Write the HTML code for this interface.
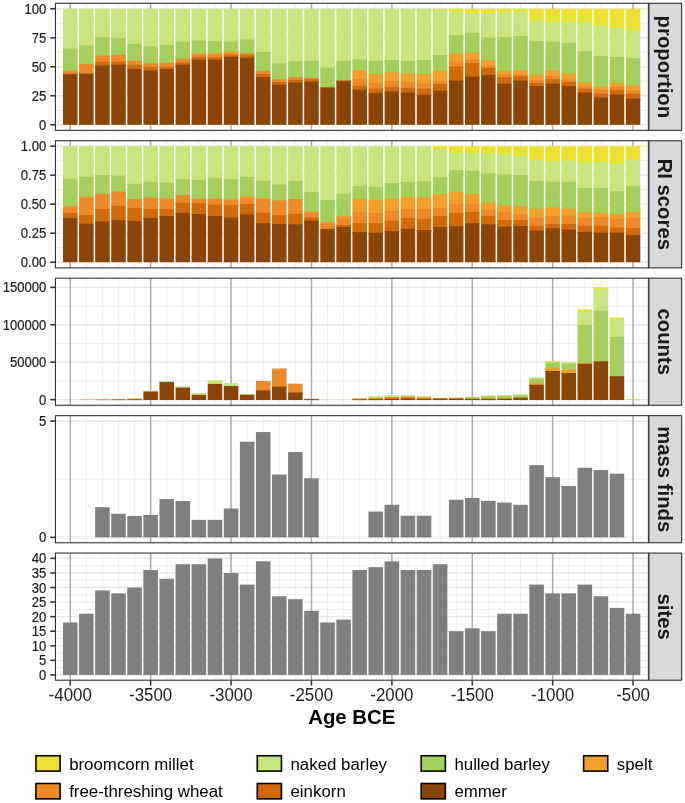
<!DOCTYPE html>
<html><head><meta charset="utf-8"><title>Age BCE crops</title>
<style>html,body{margin:0;padding:0;background:#fff}svg{display:block;font-family:"Liberation Sans",sans-serif}</style></head>
<body>
<svg width="685" height="803" viewBox="0 0 685 803">
<rect width="685" height="803" fill="#fff"/>
<line x1="55.45" x2="648.4" y1="110.29" y2="110.29" stroke="#e8e8e8" stroke-width="0.75"/>
<line x1="55.45" x2="648.4" y1="81.28" y2="81.28" stroke="#e8e8e8" stroke-width="0.75"/>
<line x1="55.45" x2="648.4" y1="52.27" y2="52.27" stroke="#e8e8e8" stroke-width="0.75"/>
<line x1="55.45" x2="648.4" y1="23.26" y2="23.26" stroke="#e8e8e8" stroke-width="0.75"/>
<line x1="86.34" x2="86.34" y1="3.3" y2="130.4" stroke="#e8e8e8" stroke-width="0.75"/>
<line x1="102.42" x2="102.42" y1="3.3" y2="130.4" stroke="#e8e8e8" stroke-width="0.75"/>
<line x1="118.50" x2="118.50" y1="3.3" y2="130.4" stroke="#e8e8e8" stroke-width="0.75"/>
<line x1="134.58" x2="134.58" y1="3.3" y2="130.4" stroke="#e8e8e8" stroke-width="0.75"/>
<line x1="166.74" x2="166.74" y1="3.3" y2="130.4" stroke="#e8e8e8" stroke-width="0.75"/>
<line x1="182.82" x2="182.82" y1="3.3" y2="130.4" stroke="#e8e8e8" stroke-width="0.75"/>
<line x1="198.90" x2="198.90" y1="3.3" y2="130.4" stroke="#e8e8e8" stroke-width="0.75"/>
<line x1="214.98" x2="214.98" y1="3.3" y2="130.4" stroke="#e8e8e8" stroke-width="0.75"/>
<line x1="247.14" x2="247.14" y1="3.3" y2="130.4" stroke="#e8e8e8" stroke-width="0.75"/>
<line x1="263.22" x2="263.22" y1="3.3" y2="130.4" stroke="#e8e8e8" stroke-width="0.75"/>
<line x1="279.30" x2="279.30" y1="3.3" y2="130.4" stroke="#e8e8e8" stroke-width="0.75"/>
<line x1="295.38" x2="295.38" y1="3.3" y2="130.4" stroke="#e8e8e8" stroke-width="0.75"/>
<line x1="327.54" x2="327.54" y1="3.3" y2="130.4" stroke="#e8e8e8" stroke-width="0.75"/>
<line x1="343.62" x2="343.62" y1="3.3" y2="130.4" stroke="#e8e8e8" stroke-width="0.75"/>
<line x1="359.70" x2="359.70" y1="3.3" y2="130.4" stroke="#e8e8e8" stroke-width="0.75"/>
<line x1="375.78" x2="375.78" y1="3.3" y2="130.4" stroke="#e8e8e8" stroke-width="0.75"/>
<line x1="407.94" x2="407.94" y1="3.3" y2="130.4" stroke="#e8e8e8" stroke-width="0.75"/>
<line x1="424.02" x2="424.02" y1="3.3" y2="130.4" stroke="#e8e8e8" stroke-width="0.75"/>
<line x1="440.10" x2="440.10" y1="3.3" y2="130.4" stroke="#e8e8e8" stroke-width="0.75"/>
<line x1="456.18" x2="456.18" y1="3.3" y2="130.4" stroke="#e8e8e8" stroke-width="0.75"/>
<line x1="488.34" x2="488.34" y1="3.3" y2="130.4" stroke="#e8e8e8" stroke-width="0.75"/>
<line x1="504.42" x2="504.42" y1="3.3" y2="130.4" stroke="#e8e8e8" stroke-width="0.75"/>
<line x1="520.50" x2="520.50" y1="3.3" y2="130.4" stroke="#e8e8e8" stroke-width="0.75"/>
<line x1="536.58" x2="536.58" y1="3.3" y2="130.4" stroke="#e8e8e8" stroke-width="0.75"/>
<line x1="568.74" x2="568.74" y1="3.3" y2="130.4" stroke="#e8e8e8" stroke-width="0.75"/>
<line x1="584.82" x2="584.82" y1="3.3" y2="130.4" stroke="#e8e8e8" stroke-width="0.75"/>
<line x1="600.90" x2="600.90" y1="3.3" y2="130.4" stroke="#e8e8e8" stroke-width="0.75"/>
<line x1="616.98" x2="616.98" y1="3.3" y2="130.4" stroke="#e8e8e8" stroke-width="0.75"/>
<line x1="55.45" x2="648.4" y1="124.80" y2="124.80" stroke="#e8e8e8" stroke-width="1.4"/>
<line x1="55.45" x2="648.4" y1="95.79" y2="95.79" stroke="#e8e8e8" stroke-width="1.4"/>
<line x1="55.45" x2="648.4" y1="66.78" y2="66.78" stroke="#e8e8e8" stroke-width="1.4"/>
<line x1="55.45" x2="648.4" y1="37.76" y2="37.76" stroke="#e8e8e8" stroke-width="1.4"/>
<line x1="55.45" x2="648.4" y1="8.75" y2="8.75" stroke="#e8e8e8" stroke-width="1.4"/>
<line x1="70.26" x2="70.26" y1="3.3" y2="130.4" stroke="#ababab" stroke-width="1.5"/>
<line x1="150.66" x2="150.66" y1="3.3" y2="130.4" stroke="#ababab" stroke-width="1.5"/>
<line x1="231.06" x2="231.06" y1="3.3" y2="130.4" stroke="#ababab" stroke-width="1.5"/>
<line x1="311.46" x2="311.46" y1="3.3" y2="130.4" stroke="#ababab" stroke-width="1.5"/>
<line x1="391.86" x2="391.86" y1="3.3" y2="130.4" stroke="#ababab" stroke-width="1.5"/>
<line x1="472.26" x2="472.26" y1="3.3" y2="130.4" stroke="#ababab" stroke-width="1.5"/>
<line x1="552.66" x2="552.66" y1="3.3" y2="130.4" stroke="#ababab" stroke-width="1.5"/>
<line x1="633.06" x2="633.06" y1="3.3" y2="130.4" stroke="#ababab" stroke-width="1.5"/>
<rect x="62.99" y="8.76" width="14.55" height="41.05" fill="#c5e67d"/>
<rect x="62.99" y="48.61" width="14.55" height="23.10" fill="#a3cf5d"/>
<rect x="62.99" y="70.51" width="14.55" height="4.27" fill="#ee8828"/>
<rect x="62.99" y="73.58" width="14.55" height="1.86" fill="#d2690a"/>
<rect x="62.99" y="74.23" width="14.55" height="50.58" fill="#8b4507"/>
<rect x="79.06" y="8.76" width="14.55" height="37.99" fill="#c5e67d"/>
<rect x="79.06" y="45.55" width="14.55" height="19.59" fill="#a3cf5d"/>
<rect x="79.06" y="63.94" width="14.55" height="10.84" fill="#ee8828"/>
<rect x="79.06" y="73.58" width="14.55" height="51.24" fill="#8b4507"/>
<rect x="95.14" y="8.76" width="14.55" height="29.67" fill="#c5e67d"/>
<rect x="95.14" y="37.23" width="14.55" height="19.59" fill="#a3cf5d"/>
<rect x="95.14" y="55.62" width="14.55" height="7.33" fill="#ee8828"/>
<rect x="95.14" y="61.75" width="14.55" height="5.14" fill="#d2690a"/>
<rect x="95.14" y="65.69" width="14.55" height="59.12" fill="#8b4507"/>
<rect x="111.22" y="8.76" width="14.55" height="30.54" fill="#c5e67d"/>
<rect x="111.22" y="38.10" width="14.55" height="17.84" fill="#a3cf5d"/>
<rect x="111.22" y="54.74" width="14.55" height="8.21" fill="#ee8828"/>
<rect x="111.22" y="61.75" width="14.55" height="4.27" fill="#d2690a"/>
<rect x="111.22" y="64.82" width="14.55" height="60.00" fill="#8b4507"/>
<rect x="127.30" y="8.76" width="14.55" height="36.24" fill="#c5e67d"/>
<rect x="127.30" y="43.80" width="14.55" height="18.28" fill="#a3cf5d"/>
<rect x="127.30" y="60.88" width="14.55" height="5.14" fill="#ee8828"/>
<rect x="127.30" y="64.82" width="14.55" height="5.36" fill="#d2690a"/>
<rect x="127.30" y="68.98" width="14.55" height="55.84" fill="#8b4507"/>
<rect x="143.38" y="8.76" width="14.55" height="38.86" fill="#c5e67d"/>
<rect x="143.38" y="46.42" width="14.55" height="18.06" fill="#a3cf5d"/>
<rect x="143.38" y="63.28" width="14.55" height="4.92" fill="#ee8828"/>
<rect x="143.38" y="67.01" width="14.55" height="4.70" fill="#d2690a"/>
<rect x="143.38" y="70.51" width="14.55" height="54.31" fill="#8b4507"/>
<rect x="159.47" y="8.76" width="14.55" height="37.33" fill="#c5e67d"/>
<rect x="159.47" y="44.89" width="14.55" height="19.16" fill="#a3cf5d"/>
<rect x="159.47" y="62.85" width="14.55" height="5.14" fill="#ee8828"/>
<rect x="159.47" y="66.79" width="14.55" height="3.39" fill="#d2690a"/>
<rect x="159.47" y="68.98" width="14.55" height="55.84" fill="#8b4507"/>
<rect x="175.54" y="8.76" width="14.55" height="34.05" fill="#c5e67d"/>
<rect x="175.54" y="41.61" width="14.55" height="18.28" fill="#a3cf5d"/>
<rect x="175.54" y="58.69" width="14.55" height="4.92" fill="#ee8828"/>
<rect x="175.54" y="62.41" width="14.55" height="3.61" fill="#d2690a"/>
<rect x="175.54" y="64.82" width="14.55" height="60.00" fill="#8b4507"/>
<rect x="191.62" y="8.76" width="14.55" height="32.95" fill="#c5e67d"/>
<rect x="191.62" y="40.51" width="14.55" height="13.90" fill="#a3cf5d"/>
<rect x="191.62" y="53.21" width="14.55" height="2.73" fill="#f2a028"/>
<rect x="191.62" y="54.74" width="14.55" height="3.39" fill="#ee8828"/>
<rect x="191.62" y="56.93" width="14.55" height="3.83" fill="#d2690a"/>
<rect x="191.62" y="59.56" width="14.55" height="65.26" fill="#8b4507"/>
<rect x="207.70" y="8.76" width="14.55" height="33.61" fill="#c5e67d"/>
<rect x="207.70" y="41.17" width="14.55" height="13.24" fill="#a3cf5d"/>
<rect x="207.70" y="53.21" width="14.55" height="2.73" fill="#f2a028"/>
<rect x="207.70" y="54.74" width="14.55" height="3.83" fill="#ee8828"/>
<rect x="207.70" y="57.37" width="14.55" height="3.39" fill="#d2690a"/>
<rect x="207.70" y="59.56" width="14.55" height="65.26" fill="#8b4507"/>
<rect x="223.78" y="8.76" width="14.55" height="34.05" fill="#c5e67d"/>
<rect x="223.78" y="41.61" width="14.55" height="11.27" fill="#a3cf5d"/>
<rect x="223.78" y="51.68" width="14.55" height="2.51" fill="#f2a028"/>
<rect x="223.78" y="52.99" width="14.55" height="2.95" fill="#ee8828"/>
<rect x="223.78" y="54.74" width="14.55" height="3.39" fill="#d2690a"/>
<rect x="223.78" y="56.93" width="14.55" height="67.88" fill="#8b4507"/>
<rect x="239.86" y="8.76" width="14.55" height="31.86" fill="#c5e67d"/>
<rect x="239.86" y="39.42" width="14.55" height="15.00" fill="#a3cf5d"/>
<rect x="239.86" y="53.21" width="14.55" height="3.17" fill="#ee8828"/>
<rect x="239.86" y="55.18" width="14.55" height="3.83" fill="#d2690a"/>
<rect x="239.86" y="57.81" width="14.55" height="67.01" fill="#8b4507"/>
<rect x="255.94" y="8.76" width="14.55" height="44.34" fill="#c5e67d"/>
<rect x="255.94" y="51.90" width="14.55" height="20.03" fill="#a3cf5d"/>
<rect x="255.94" y="70.73" width="14.55" height="4.48" fill="#ee8828"/>
<rect x="255.94" y="74.01" width="14.55" height="4.27" fill="#d2690a"/>
<rect x="255.94" y="77.08" width="14.55" height="47.74" fill="#8b4507"/>
<rect x="272.02" y="8.76" width="14.55" height="55.94" fill="#c5e67d"/>
<rect x="272.02" y="63.50" width="14.55" height="16.97" fill="#a3cf5d"/>
<rect x="272.02" y="79.27" width="14.55" height="4.05" fill="#ee8828"/>
<rect x="272.02" y="82.12" width="14.55" height="3.83" fill="#d2690a"/>
<rect x="272.02" y="84.74" width="14.55" height="40.07" fill="#8b4507"/>
<rect x="288.11" y="8.76" width="14.55" height="53.97" fill="#c5e67d"/>
<rect x="288.11" y="61.53" width="14.55" height="16.75" fill="#a3cf5d"/>
<rect x="288.11" y="77.08" width="14.55" height="4.05" fill="#ee8828"/>
<rect x="288.11" y="79.93" width="14.55" height="3.83" fill="#d2690a"/>
<rect x="288.11" y="82.55" width="14.55" height="42.26" fill="#8b4507"/>
<rect x="304.19" y="8.76" width="14.55" height="53.32" fill="#c5e67d"/>
<rect x="304.19" y="60.88" width="14.55" height="18.28" fill="#a3cf5d"/>
<rect x="304.19" y="77.96" width="14.55" height="2.51" fill="#ee8828"/>
<rect x="304.19" y="79.27" width="14.55" height="3.61" fill="#d2690a"/>
<rect x="304.19" y="81.68" width="14.55" height="43.14" fill="#8b4507"/>
<rect x="320.26" y="8.76" width="14.55" height="60.11" fill="#c5e67d"/>
<rect x="320.26" y="67.66" width="14.55" height="20.69" fill="#a3cf5d"/>
<rect x="320.26" y="87.15" width="14.55" height="1.86" fill="#d2690a"/>
<rect x="320.26" y="87.81" width="14.55" height="37.01" fill="#8b4507"/>
<rect x="336.34" y="8.76" width="14.55" height="53.32" fill="#c5e67d"/>
<rect x="336.34" y="60.88" width="14.55" height="20.69" fill="#a3cf5d"/>
<rect x="336.34" y="80.36" width="14.55" height="2.08" fill="#d2690a"/>
<rect x="336.34" y="81.24" width="14.55" height="43.58" fill="#8b4507"/>
<rect x="352.42" y="8.76" width="14.55" height="52.00" fill="#c5e67d"/>
<rect x="352.42" y="59.56" width="14.55" height="11.71" fill="#a3cf5d"/>
<rect x="352.42" y="70.07" width="14.55" height="10.40" fill="#f2a028"/>
<rect x="352.42" y="79.27" width="14.55" height="7.77" fill="#ee8828"/>
<rect x="352.42" y="85.84" width="14.55" height="5.14" fill="#d2690a"/>
<rect x="352.42" y="89.78" width="14.55" height="35.04" fill="#8b4507"/>
<rect x="368.50" y="8.76" width="14.55" height="53.32" fill="#c5e67d"/>
<rect x="368.50" y="60.88" width="14.55" height="14.34" fill="#a3cf5d"/>
<rect x="368.50" y="74.01" width="14.55" height="9.96" fill="#f2a028"/>
<rect x="368.50" y="82.77" width="14.55" height="7.11" fill="#ee8828"/>
<rect x="368.50" y="88.69" width="14.55" height="5.58" fill="#d2690a"/>
<rect x="368.50" y="93.07" width="14.55" height="31.75" fill="#8b4507"/>
<rect x="384.58" y="8.76" width="14.55" height="52.44" fill="#c5e67d"/>
<rect x="384.58" y="60.00" width="14.55" height="13.46" fill="#a3cf5d"/>
<rect x="384.58" y="72.26" width="14.55" height="9.96" fill="#f2a028"/>
<rect x="384.58" y="81.02" width="14.55" height="7.11" fill="#ee8828"/>
<rect x="384.58" y="86.93" width="14.55" height="5.80" fill="#d2690a"/>
<rect x="384.58" y="91.53" width="14.55" height="33.28" fill="#8b4507"/>
<rect x="400.66" y="8.76" width="14.55" height="53.32" fill="#c5e67d"/>
<rect x="400.66" y="60.88" width="14.55" height="13.90" fill="#a3cf5d"/>
<rect x="400.66" y="73.58" width="14.55" height="9.96" fill="#f2a028"/>
<rect x="400.66" y="82.34" width="14.55" height="6.67" fill="#ee8828"/>
<rect x="400.66" y="87.81" width="14.55" height="6.02" fill="#d2690a"/>
<rect x="400.66" y="92.63" width="14.55" height="32.19" fill="#8b4507"/>
<rect x="416.75" y="8.76" width="14.55" height="52.44" fill="#c5e67d"/>
<rect x="416.75" y="60.00" width="14.55" height="15.21" fill="#a3cf5d"/>
<rect x="416.75" y="74.01" width="14.55" height="10.84" fill="#f2a028"/>
<rect x="416.75" y="83.65" width="14.55" height="6.24" fill="#ee8828"/>
<rect x="416.75" y="88.69" width="14.55" height="7.11" fill="#d2690a"/>
<rect x="416.75" y="94.60" width="14.55" height="30.22" fill="#8b4507"/>
<rect x="432.82" y="8.76" width="14.55" height="2.51" fill="#ebe032"/>
<rect x="432.82" y="10.07" width="14.55" height="46.09" fill="#c5e67d"/>
<rect x="432.82" y="54.96" width="14.55" height="16.75" fill="#a3cf5d"/>
<rect x="432.82" y="70.51" width="14.55" height="12.15" fill="#f2a028"/>
<rect x="432.82" y="81.46" width="14.55" height="3.61" fill="#ee8828"/>
<rect x="432.82" y="83.87" width="14.55" height="7.99" fill="#d2690a"/>
<rect x="432.82" y="90.66" width="14.55" height="34.16" fill="#8b4507"/>
<rect x="448.90" y="8.76" width="14.55" height="4.48" fill="#ebe032"/>
<rect x="448.90" y="12.04" width="14.55" height="24.19" fill="#c5e67d"/>
<rect x="448.90" y="35.04" width="14.55" height="19.81" fill="#a3cf5d"/>
<rect x="448.90" y="53.65" width="14.55" height="9.30" fill="#f2a028"/>
<rect x="448.90" y="61.75" width="14.55" height="6.02" fill="#ee8828"/>
<rect x="448.90" y="66.57" width="14.55" height="15.21" fill="#d2690a"/>
<rect x="448.90" y="80.58" width="14.55" height="44.23" fill="#8b4507"/>
<rect x="464.98" y="8.76" width="14.55" height="6.24" fill="#ebe032"/>
<rect x="464.98" y="13.80" width="14.55" height="20.25" fill="#c5e67d"/>
<rect x="464.98" y="32.85" width="14.55" height="20.91" fill="#a3cf5d"/>
<rect x="464.98" y="52.55" width="14.55" height="8.21" fill="#f2a028"/>
<rect x="464.98" y="59.56" width="14.55" height="4.70" fill="#ee8828"/>
<rect x="464.98" y="63.07" width="14.55" height="14.78" fill="#d2690a"/>
<rect x="464.98" y="76.64" width="14.55" height="48.18" fill="#8b4507"/>
<rect x="481.06" y="8.76" width="14.55" height="6.24" fill="#ebe032"/>
<rect x="481.06" y="13.80" width="14.55" height="25.07" fill="#c5e67d"/>
<rect x="481.06" y="37.66" width="14.55" height="23.75" fill="#a3cf5d"/>
<rect x="481.06" y="60.22" width="14.55" height="6.67" fill="#f2a028"/>
<rect x="481.06" y="65.69" width="14.55" height="3.39" fill="#ee8828"/>
<rect x="481.06" y="67.88" width="14.55" height="8.21" fill="#d2690a"/>
<rect x="481.06" y="74.89" width="14.55" height="49.93" fill="#8b4507"/>
<rect x="497.14" y="8.76" width="14.55" height="4.70" fill="#ebe032"/>
<rect x="497.14" y="12.26" width="14.55" height="26.16" fill="#c5e67d"/>
<rect x="497.14" y="37.23" width="14.55" height="34.70" fill="#a3cf5d"/>
<rect x="497.14" y="70.73" width="14.55" height="4.92" fill="#f2a028"/>
<rect x="497.14" y="74.45" width="14.55" height="3.83" fill="#ee8828"/>
<rect x="497.14" y="77.08" width="14.55" height="7.77" fill="#d2690a"/>
<rect x="497.14" y="83.65" width="14.55" height="41.17" fill="#8b4507"/>
<rect x="513.23" y="8.76" width="14.55" height="4.48" fill="#ebe032"/>
<rect x="513.23" y="12.04" width="14.55" height="25.29" fill="#c5e67d"/>
<rect x="513.23" y="36.13" width="14.55" height="35.14" fill="#a3cf5d"/>
<rect x="513.23" y="70.07" width="14.55" height="5.58" fill="#f2a028"/>
<rect x="513.23" y="74.45" width="14.55" height="2.95" fill="#ee8828"/>
<rect x="513.23" y="76.20" width="14.55" height="5.58" fill="#d2690a"/>
<rect x="513.23" y="80.58" width="14.55" height="44.23" fill="#8b4507"/>
<rect x="529.30" y="8.76" width="14.55" height="13.02" fill="#ebe032"/>
<rect x="529.30" y="20.58" width="14.55" height="21.78" fill="#c5e67d"/>
<rect x="529.30" y="41.17" width="14.55" height="34.48" fill="#a3cf5d"/>
<rect x="529.30" y="74.45" width="14.55" height="6.67" fill="#f2a028"/>
<rect x="529.30" y="79.93" width="14.55" height="4.05" fill="#ee8828"/>
<rect x="529.30" y="82.77" width="14.55" height="4.48" fill="#d2690a"/>
<rect x="529.30" y="86.06" width="14.55" height="38.76" fill="#8b4507"/>
<rect x="545.38" y="8.76" width="14.55" height="14.34" fill="#ebe032"/>
<rect x="545.38" y="21.90" width="14.55" height="20.91" fill="#c5e67d"/>
<rect x="545.38" y="41.61" width="14.55" height="30.11" fill="#a3cf5d"/>
<rect x="545.38" y="70.51" width="14.55" height="6.89" fill="#f2a028"/>
<rect x="545.38" y="76.20" width="14.55" height="4.27" fill="#ee8828"/>
<rect x="545.38" y="79.27" width="14.55" height="5.58" fill="#d2690a"/>
<rect x="545.38" y="83.65" width="14.55" height="41.17" fill="#8b4507"/>
<rect x="561.47" y="8.76" width="14.55" height="14.34" fill="#ebe032"/>
<rect x="561.47" y="21.90" width="14.55" height="22.00" fill="#c5e67d"/>
<rect x="561.47" y="42.70" width="14.55" height="32.29" fill="#a3cf5d"/>
<rect x="561.47" y="73.80" width="14.55" height="6.67" fill="#f2a028"/>
<rect x="561.47" y="79.27" width="14.55" height="4.05" fill="#ee8828"/>
<rect x="561.47" y="82.12" width="14.55" height="5.14" fill="#d2690a"/>
<rect x="561.47" y="86.06" width="14.55" height="38.76" fill="#8b4507"/>
<rect x="577.54" y="8.76" width="14.55" height="14.34" fill="#ebe032"/>
<rect x="577.54" y="21.90" width="14.55" height="30.32" fill="#c5e67d"/>
<rect x="577.54" y="51.02" width="14.55" height="32.29" fill="#a3cf5d"/>
<rect x="577.54" y="82.12" width="14.55" height="5.58" fill="#f2a028"/>
<rect x="577.54" y="86.50" width="14.55" height="3.39" fill="#ee8828"/>
<rect x="577.54" y="88.69" width="14.55" height="5.14" fill="#d2690a"/>
<rect x="577.54" y="92.63" width="14.55" height="32.19" fill="#8b4507"/>
<rect x="593.62" y="8.76" width="14.55" height="18.06" fill="#ebe032"/>
<rect x="593.62" y="25.62" width="14.55" height="31.42" fill="#c5e67d"/>
<rect x="593.62" y="55.84" width="14.55" height="32.08" fill="#a3cf5d"/>
<rect x="593.62" y="86.72" width="14.55" height="4.27" fill="#f2a028"/>
<rect x="593.62" y="89.78" width="14.55" height="5.14" fill="#ee8828"/>
<rect x="593.62" y="93.72" width="14.55" height="5.14" fill="#d2690a"/>
<rect x="593.62" y="97.66" width="14.55" height="27.15" fill="#8b4507"/>
<rect x="609.70" y="8.76" width="14.55" height="20.47" fill="#ebe032"/>
<rect x="609.70" y="28.03" width="14.55" height="30.11" fill="#c5e67d"/>
<rect x="609.70" y="56.93" width="14.55" height="27.04" fill="#a3cf5d"/>
<rect x="609.70" y="82.77" width="14.55" height="4.92" fill="#f2a028"/>
<rect x="609.70" y="86.50" width="14.55" height="4.48" fill="#ee8828"/>
<rect x="609.70" y="89.78" width="14.55" height="6.02" fill="#d2690a"/>
<rect x="609.70" y="94.60" width="14.55" height="30.22" fill="#8b4507"/>
<rect x="625.78" y="8.76" width="14.55" height="22.66" fill="#ebe032"/>
<rect x="625.78" y="30.22" width="14.55" height="29.01" fill="#c5e67d"/>
<rect x="625.78" y="58.03" width="14.55" height="28.57" fill="#a3cf5d"/>
<rect x="625.78" y="85.40" width="14.55" height="6.24" fill="#f2a028"/>
<rect x="625.78" y="90.44" width="14.55" height="4.48" fill="#ee8828"/>
<rect x="625.78" y="93.72" width="14.55" height="6.02" fill="#d2690a"/>
<rect x="625.78" y="98.54" width="14.55" height="26.28" fill="#8b4507"/>
<rect x="55.45" y="3.3" width="592.9499999999999" height="127.1" fill="none" stroke="#333" stroke-width="1.1"/>
<rect x="648.9" y="3.3" width="32.700000000000045" height="127.1" fill="#d9d9d9" stroke="#333" stroke-width="1.1"/>
<text transform="translate(658.4,66.85) rotate(90)" text-anchor="middle" font-size="20.3" font-weight="bold" fill="#1a1a1a">proportion</text>
<line x1="50.2" x2="55.45" y1="124.80" y2="124.80" stroke="#333" stroke-width="1.55"/>
<text transform="translate(46.3,129.82) scale(1,1.07)" text-anchor="end" font-size="13.1" fill="#1c1c1c" stroke="#1c1c1c" stroke-width="0.2">0</text>
<line x1="50.2" x2="55.45" y1="95.79" y2="95.79" stroke="#333" stroke-width="1.55"/>
<text transform="translate(46.3,100.81) scale(1,1.07)" text-anchor="end" font-size="13.1" fill="#1c1c1c" stroke="#1c1c1c" stroke-width="0.2">25</text>
<line x1="50.2" x2="55.45" y1="66.78" y2="66.78" stroke="#333" stroke-width="1.55"/>
<text transform="translate(46.3,71.79) scale(1,1.07)" text-anchor="end" font-size="13.1" fill="#1c1c1c" stroke="#1c1c1c" stroke-width="0.2">50</text>
<line x1="50.2" x2="55.45" y1="37.76" y2="37.76" stroke="#333" stroke-width="1.55"/>
<text transform="translate(46.3,42.78) scale(1,1.07)" text-anchor="end" font-size="13.1" fill="#1c1c1c" stroke="#1c1c1c" stroke-width="0.2">75</text>
<line x1="50.2" x2="55.45" y1="8.75" y2="8.75" stroke="#333" stroke-width="1.55"/>
<text transform="translate(46.3,13.77) scale(1,1.07)" text-anchor="end" font-size="13.1" fill="#1c1c1c" stroke="#1c1c1c" stroke-width="0.2">100</text>
<line x1="55.45" x2="648.4" y1="247.69" y2="247.69" stroke="#e8e8e8" stroke-width="0.75"/>
<line x1="55.45" x2="648.4" y1="218.68" y2="218.68" stroke="#e8e8e8" stroke-width="0.75"/>
<line x1="55.45" x2="648.4" y1="189.67" y2="189.67" stroke="#e8e8e8" stroke-width="0.75"/>
<line x1="55.45" x2="648.4" y1="160.66" y2="160.66" stroke="#e8e8e8" stroke-width="0.75"/>
<line x1="86.34" x2="86.34" y1="140.75" y2="267.85" stroke="#e8e8e8" stroke-width="0.75"/>
<line x1="102.42" x2="102.42" y1="140.75" y2="267.85" stroke="#e8e8e8" stroke-width="0.75"/>
<line x1="118.50" x2="118.50" y1="140.75" y2="267.85" stroke="#e8e8e8" stroke-width="0.75"/>
<line x1="134.58" x2="134.58" y1="140.75" y2="267.85" stroke="#e8e8e8" stroke-width="0.75"/>
<line x1="166.74" x2="166.74" y1="140.75" y2="267.85" stroke="#e8e8e8" stroke-width="0.75"/>
<line x1="182.82" x2="182.82" y1="140.75" y2="267.85" stroke="#e8e8e8" stroke-width="0.75"/>
<line x1="198.90" x2="198.90" y1="140.75" y2="267.85" stroke="#e8e8e8" stroke-width="0.75"/>
<line x1="214.98" x2="214.98" y1="140.75" y2="267.85" stroke="#e8e8e8" stroke-width="0.75"/>
<line x1="247.14" x2="247.14" y1="140.75" y2="267.85" stroke="#e8e8e8" stroke-width="0.75"/>
<line x1="263.22" x2="263.22" y1="140.75" y2="267.85" stroke="#e8e8e8" stroke-width="0.75"/>
<line x1="279.30" x2="279.30" y1="140.75" y2="267.85" stroke="#e8e8e8" stroke-width="0.75"/>
<line x1="295.38" x2="295.38" y1="140.75" y2="267.85" stroke="#e8e8e8" stroke-width="0.75"/>
<line x1="327.54" x2="327.54" y1="140.75" y2="267.85" stroke="#e8e8e8" stroke-width="0.75"/>
<line x1="343.62" x2="343.62" y1="140.75" y2="267.85" stroke="#e8e8e8" stroke-width="0.75"/>
<line x1="359.70" x2="359.70" y1="140.75" y2="267.85" stroke="#e8e8e8" stroke-width="0.75"/>
<line x1="375.78" x2="375.78" y1="140.75" y2="267.85" stroke="#e8e8e8" stroke-width="0.75"/>
<line x1="407.94" x2="407.94" y1="140.75" y2="267.85" stroke="#e8e8e8" stroke-width="0.75"/>
<line x1="424.02" x2="424.02" y1="140.75" y2="267.85" stroke="#e8e8e8" stroke-width="0.75"/>
<line x1="440.10" x2="440.10" y1="140.75" y2="267.85" stroke="#e8e8e8" stroke-width="0.75"/>
<line x1="456.18" x2="456.18" y1="140.75" y2="267.85" stroke="#e8e8e8" stroke-width="0.75"/>
<line x1="488.34" x2="488.34" y1="140.75" y2="267.85" stroke="#e8e8e8" stroke-width="0.75"/>
<line x1="504.42" x2="504.42" y1="140.75" y2="267.85" stroke="#e8e8e8" stroke-width="0.75"/>
<line x1="520.50" x2="520.50" y1="140.75" y2="267.85" stroke="#e8e8e8" stroke-width="0.75"/>
<line x1="536.58" x2="536.58" y1="140.75" y2="267.85" stroke="#e8e8e8" stroke-width="0.75"/>
<line x1="568.74" x2="568.74" y1="140.75" y2="267.85" stroke="#e8e8e8" stroke-width="0.75"/>
<line x1="584.82" x2="584.82" y1="140.75" y2="267.85" stroke="#e8e8e8" stroke-width="0.75"/>
<line x1="600.90" x2="600.90" y1="140.75" y2="267.85" stroke="#e8e8e8" stroke-width="0.75"/>
<line x1="616.98" x2="616.98" y1="140.75" y2="267.85" stroke="#e8e8e8" stroke-width="0.75"/>
<line x1="55.45" x2="648.4" y1="262.20" y2="262.20" stroke="#e8e8e8" stroke-width="1.4"/>
<line x1="55.45" x2="648.4" y1="233.19" y2="233.19" stroke="#e8e8e8" stroke-width="1.4"/>
<line x1="55.45" x2="648.4" y1="204.17" y2="204.17" stroke="#e8e8e8" stroke-width="1.4"/>
<line x1="55.45" x2="648.4" y1="175.16" y2="175.16" stroke="#e8e8e8" stroke-width="1.4"/>
<line x1="55.45" x2="648.4" y1="146.15" y2="146.15" stroke="#e8e8e8" stroke-width="1.4"/>
<line x1="70.26" x2="70.26" y1="140.75" y2="267.85" stroke="#ababab" stroke-width="1.5"/>
<line x1="150.66" x2="150.66" y1="140.75" y2="267.85" stroke="#ababab" stroke-width="1.5"/>
<line x1="231.06" x2="231.06" y1="140.75" y2="267.85" stroke="#ababab" stroke-width="1.5"/>
<line x1="311.46" x2="311.46" y1="140.75" y2="267.85" stroke="#ababab" stroke-width="1.5"/>
<line x1="391.86" x2="391.86" y1="140.75" y2="267.85" stroke="#ababab" stroke-width="1.5"/>
<line x1="472.26" x2="472.26" y1="140.75" y2="267.85" stroke="#ababab" stroke-width="1.5"/>
<line x1="552.66" x2="552.66" y1="140.75" y2="267.85" stroke="#ababab" stroke-width="1.5"/>
<line x1="633.06" x2="633.06" y1="140.75" y2="267.85" stroke="#ababab" stroke-width="1.5"/>
<rect x="62.99" y="146.15" width="14.55" height="33.61" fill="#c5e67d"/>
<rect x="62.99" y="178.56" width="14.55" height="28.35" fill="#a3cf5d"/>
<rect x="62.99" y="205.71" width="14.55" height="2.95" fill="#f2a028"/>
<rect x="62.99" y="207.46" width="14.55" height="6.67" fill="#ee8828"/>
<rect x="62.99" y="212.94" width="14.55" height="6.24" fill="#d2690a"/>
<rect x="62.99" y="217.97" width="14.55" height="44.23" fill="#8b4507"/>
<rect x="79.06" y="146.15" width="14.55" height="31.86" fill="#c5e67d"/>
<rect x="79.06" y="176.81" width="14.55" height="20.91" fill="#a3cf5d"/>
<rect x="79.06" y="196.51" width="14.55" height="2.73" fill="#f2a028"/>
<rect x="79.06" y="198.05" width="14.55" height="18.06" fill="#ee8828"/>
<rect x="79.06" y="214.91" width="14.55" height="9.96" fill="#d2690a"/>
<rect x="79.06" y="223.67" width="14.55" height="38.54" fill="#8b4507"/>
<rect x="95.14" y="146.15" width="14.55" height="30.11" fill="#c5e67d"/>
<rect x="95.14" y="175.05" width="14.55" height="19.81" fill="#a3cf5d"/>
<rect x="95.14" y="193.67" width="14.55" height="16.53" fill="#ee8828"/>
<rect x="95.14" y="209.00" width="14.55" height="13.68" fill="#d2690a"/>
<rect x="95.14" y="221.48" width="14.55" height="40.73" fill="#8b4507"/>
<rect x="111.22" y="146.15" width="14.55" height="30.76" fill="#c5e67d"/>
<rect x="111.22" y="175.71" width="14.55" height="16.97" fill="#a3cf5d"/>
<rect x="111.22" y="191.48" width="14.55" height="15.65" fill="#ee8828"/>
<rect x="111.22" y="205.93" width="14.55" height="15.43" fill="#d2690a"/>
<rect x="111.22" y="220.16" width="14.55" height="42.04" fill="#8b4507"/>
<rect x="127.30" y="146.15" width="14.55" height="38.86" fill="#c5e67d"/>
<rect x="127.30" y="183.81" width="14.55" height="16.31" fill="#a3cf5d"/>
<rect x="127.30" y="198.92" width="14.55" height="10.40" fill="#ee8828"/>
<rect x="127.30" y="208.12" width="14.55" height="14.12" fill="#d2690a"/>
<rect x="127.30" y="221.04" width="14.55" height="41.17" fill="#8b4507"/>
<rect x="143.38" y="146.15" width="14.55" height="37.11" fill="#c5e67d"/>
<rect x="143.38" y="182.06" width="14.55" height="16.75" fill="#a3cf5d"/>
<rect x="143.38" y="197.61" width="14.55" height="12.81" fill="#ee8828"/>
<rect x="143.38" y="209.21" width="14.55" height="9.96" fill="#d2690a"/>
<rect x="143.38" y="217.97" width="14.55" height="44.23" fill="#8b4507"/>
<rect x="159.47" y="146.15" width="14.55" height="37.55" fill="#c5e67d"/>
<rect x="159.47" y="182.50" width="14.55" height="17.19" fill="#a3cf5d"/>
<rect x="159.47" y="198.48" width="14.55" height="11.93" fill="#ee8828"/>
<rect x="159.47" y="209.21" width="14.55" height="7.99" fill="#d2690a"/>
<rect x="159.47" y="216.00" width="14.55" height="46.20" fill="#8b4507"/>
<rect x="175.54" y="146.15" width="14.55" height="34.05" fill="#c5e67d"/>
<rect x="175.54" y="179.00" width="14.55" height="17.19" fill="#a3cf5d"/>
<rect x="175.54" y="194.98" width="14.55" height="8.86" fill="#ee8828"/>
<rect x="175.54" y="202.65" width="14.55" height="11.49" fill="#d2690a"/>
<rect x="175.54" y="212.94" width="14.55" height="49.27" fill="#8b4507"/>
<rect x="191.62" y="146.15" width="14.55" height="34.92" fill="#c5e67d"/>
<rect x="191.62" y="179.87" width="14.55" height="20.03" fill="#a3cf5d"/>
<rect x="191.62" y="198.70" width="14.55" height="5.58" fill="#ee8828"/>
<rect x="191.62" y="203.08" width="14.55" height="12.15" fill="#d2690a"/>
<rect x="191.62" y="214.03" width="14.55" height="48.18" fill="#8b4507"/>
<rect x="207.70" y="146.15" width="14.55" height="32.95" fill="#c5e67d"/>
<rect x="207.70" y="177.90" width="14.55" height="22.00" fill="#a3cf5d"/>
<rect x="207.70" y="198.70" width="14.55" height="7.11" fill="#ee8828"/>
<rect x="207.70" y="204.62" width="14.55" height="12.59" fill="#d2690a"/>
<rect x="207.70" y="216.00" width="14.55" height="46.20" fill="#8b4507"/>
<rect x="223.78" y="146.15" width="14.55" height="34.05" fill="#c5e67d"/>
<rect x="223.78" y="179.00" width="14.55" height="21.78" fill="#a3cf5d"/>
<rect x="223.78" y="199.58" width="14.55" height="6.89" fill="#ee8828"/>
<rect x="223.78" y="205.27" width="14.55" height="13.68" fill="#d2690a"/>
<rect x="223.78" y="217.75" width="14.55" height="44.45" fill="#8b4507"/>
<rect x="239.86" y="146.15" width="14.55" height="31.86" fill="#c5e67d"/>
<rect x="239.86" y="176.81" width="14.55" height="20.69" fill="#a3cf5d"/>
<rect x="239.86" y="196.29" width="14.55" height="3.61" fill="#f2a028"/>
<rect x="239.86" y="198.70" width="14.55" height="6.46" fill="#ee8828"/>
<rect x="239.86" y="203.96" width="14.55" height="11.71" fill="#d2690a"/>
<rect x="239.86" y="214.47" width="14.55" height="47.74" fill="#8b4507"/>
<rect x="255.94" y="146.15" width="14.55" height="35.80" fill="#c5e67d"/>
<rect x="255.94" y="180.75" width="14.55" height="18.50" fill="#a3cf5d"/>
<rect x="255.94" y="198.05" width="14.55" height="2.29" fill="#f2a028"/>
<rect x="255.94" y="199.14" width="14.55" height="14.78" fill="#ee8828"/>
<rect x="255.94" y="212.72" width="14.55" height="11.49" fill="#d2690a"/>
<rect x="255.94" y="223.01" width="14.55" height="39.20" fill="#8b4507"/>
<rect x="272.02" y="146.15" width="14.55" height="39.52" fill="#c5e67d"/>
<rect x="272.02" y="184.47" width="14.55" height="17.19" fill="#a3cf5d"/>
<rect x="272.02" y="200.46" width="14.55" height="15.87" fill="#ee8828"/>
<rect x="272.02" y="215.13" width="14.55" height="10.18" fill="#d2690a"/>
<rect x="272.02" y="224.11" width="14.55" height="38.10" fill="#8b4507"/>
<rect x="288.11" y="146.15" width="14.55" height="36.02" fill="#c5e67d"/>
<rect x="288.11" y="180.97" width="14.55" height="19.16" fill="#a3cf5d"/>
<rect x="288.11" y="198.92" width="14.55" height="16.31" fill="#ee8828"/>
<rect x="288.11" y="214.03" width="14.55" height="11.49" fill="#d2690a"/>
<rect x="288.11" y="224.32" width="14.55" height="37.88" fill="#8b4507"/>
<rect x="304.19" y="146.15" width="14.55" height="47.19" fill="#c5e67d"/>
<rect x="304.19" y="192.13" width="14.55" height="20.47" fill="#a3cf5d"/>
<rect x="304.19" y="211.40" width="14.55" height="2.51" fill="#f2a028"/>
<rect x="304.19" y="212.72" width="14.55" height="6.02" fill="#ee8828"/>
<rect x="304.19" y="217.54" width="14.55" height="4.27" fill="#d2690a"/>
<rect x="304.19" y="220.60" width="14.55" height="41.61" fill="#8b4507"/>
<rect x="320.26" y="146.15" width="14.55" height="55.07" fill="#c5e67d"/>
<rect x="320.26" y="200.02" width="14.55" height="22.88" fill="#a3cf5d"/>
<rect x="320.26" y="221.70" width="14.55" height="2.95" fill="#f2a028"/>
<rect x="320.26" y="223.45" width="14.55" height="6.67" fill="#ee8828"/>
<rect x="320.26" y="228.92" width="14.55" height="33.28" fill="#8b4507"/>
<rect x="336.34" y="146.15" width="14.55" height="48.72" fill="#c5e67d"/>
<rect x="336.34" y="193.67" width="14.55" height="23.54" fill="#a3cf5d"/>
<rect x="336.34" y="216.00" width="14.55" height="3.61" fill="#f2a028"/>
<rect x="336.34" y="218.41" width="14.55" height="7.77" fill="#ee8828"/>
<rect x="336.34" y="224.98" width="14.55" height="3.17" fill="#d2690a"/>
<rect x="336.34" y="226.95" width="14.55" height="35.26" fill="#8b4507"/>
<rect x="352.42" y="146.15" width="14.55" height="41.05" fill="#c5e67d"/>
<rect x="352.42" y="186.00" width="14.55" height="13.90" fill="#a3cf5d"/>
<rect x="352.42" y="198.70" width="14.55" height="14.34" fill="#f2a028"/>
<rect x="352.42" y="211.84" width="14.55" height="12.59" fill="#ee8828"/>
<rect x="352.42" y="223.23" width="14.55" height="10.18" fill="#d2690a"/>
<rect x="352.42" y="232.21" width="14.55" height="30.00" fill="#8b4507"/>
<rect x="368.50" y="146.15" width="14.55" height="41.71" fill="#c5e67d"/>
<rect x="368.50" y="186.66" width="14.55" height="14.34" fill="#a3cf5d"/>
<rect x="368.50" y="199.80" width="14.55" height="14.34" fill="#f2a028"/>
<rect x="368.50" y="212.94" width="14.55" height="11.49" fill="#ee8828"/>
<rect x="368.50" y="223.23" width="14.55" height="10.84" fill="#d2690a"/>
<rect x="368.50" y="232.86" width="14.55" height="29.34" fill="#8b4507"/>
<rect x="384.58" y="146.15" width="14.55" height="38.21" fill="#c5e67d"/>
<rect x="384.58" y="183.16" width="14.55" height="16.75" fill="#a3cf5d"/>
<rect x="384.58" y="198.70" width="14.55" height="13.46" fill="#f2a028"/>
<rect x="384.58" y="210.97" width="14.55" height="10.84" fill="#ee8828"/>
<rect x="384.58" y="220.60" width="14.55" height="11.49" fill="#d2690a"/>
<rect x="384.58" y="230.89" width="14.55" height="31.31" fill="#8b4507"/>
<rect x="400.66" y="146.15" width="14.55" height="37.11" fill="#c5e67d"/>
<rect x="400.66" y="182.06" width="14.55" height="16.09" fill="#a3cf5d"/>
<rect x="400.66" y="196.95" width="14.55" height="13.24" fill="#f2a028"/>
<rect x="400.66" y="209.00" width="14.55" height="10.18" fill="#ee8828"/>
<rect x="400.66" y="217.97" width="14.55" height="12.15" fill="#d2690a"/>
<rect x="400.66" y="228.92" width="14.55" height="33.28" fill="#8b4507"/>
<rect x="416.75" y="146.15" width="14.55" height="36.24" fill="#c5e67d"/>
<rect x="416.75" y="181.19" width="14.55" height="17.19" fill="#a3cf5d"/>
<rect x="416.75" y="197.17" width="14.55" height="13.02" fill="#f2a028"/>
<rect x="416.75" y="209.00" width="14.55" height="11.05" fill="#ee8828"/>
<rect x="416.75" y="218.85" width="14.55" height="12.37" fill="#d2690a"/>
<rect x="416.75" y="230.02" width="14.55" height="32.19" fill="#8b4507"/>
<rect x="432.82" y="146.15" width="14.55" height="4.92" fill="#ebe032"/>
<rect x="432.82" y="149.87" width="14.55" height="28.79" fill="#c5e67d"/>
<rect x="432.82" y="177.46" width="14.55" height="17.84" fill="#a3cf5d"/>
<rect x="432.82" y="194.11" width="14.55" height="15.21" fill="#f2a028"/>
<rect x="432.82" y="208.12" width="14.55" height="9.08" fill="#ee8828"/>
<rect x="432.82" y="216.00" width="14.55" height="12.15" fill="#d2690a"/>
<rect x="432.82" y="226.95" width="14.55" height="35.26" fill="#8b4507"/>
<rect x="448.90" y="146.15" width="14.55" height="7.99" fill="#ebe032"/>
<rect x="448.90" y="152.94" width="14.55" height="18.50" fill="#c5e67d"/>
<rect x="448.90" y="170.24" width="14.55" height="23.10" fill="#a3cf5d"/>
<rect x="448.90" y="192.13" width="14.55" height="13.02" fill="#f2a028"/>
<rect x="448.90" y="203.96" width="14.55" height="10.18" fill="#ee8828"/>
<rect x="448.90" y="212.94" width="14.55" height="14.56" fill="#d2690a"/>
<rect x="448.90" y="226.29" width="14.55" height="35.91" fill="#8b4507"/>
<rect x="464.98" y="146.15" width="14.55" height="7.99" fill="#ebe032"/>
<rect x="464.98" y="152.94" width="14.55" height="19.16" fill="#c5e67d"/>
<rect x="464.98" y="170.89" width="14.55" height="24.41" fill="#a3cf5d"/>
<rect x="464.98" y="194.11" width="14.55" height="11.27" fill="#f2a028"/>
<rect x="464.98" y="204.18" width="14.55" height="8.86" fill="#ee8828"/>
<rect x="464.98" y="211.84" width="14.55" height="12.37" fill="#d2690a"/>
<rect x="464.98" y="223.01" width="14.55" height="39.20" fill="#8b4507"/>
<rect x="481.06" y="146.15" width="14.55" height="8.43" fill="#ebe032"/>
<rect x="481.06" y="153.38" width="14.55" height="21.35" fill="#c5e67d"/>
<rect x="481.06" y="173.52" width="14.55" height="30.11" fill="#a3cf5d"/>
<rect x="481.06" y="202.43" width="14.55" height="8.86" fill="#f2a028"/>
<rect x="481.06" y="210.09" width="14.55" height="6.89" fill="#ee8828"/>
<rect x="481.06" y="215.78" width="14.55" height="9.74" fill="#d2690a"/>
<rect x="481.06" y="224.32" width="14.55" height="37.88" fill="#8b4507"/>
<rect x="497.14" y="146.15" width="14.55" height="9.08" fill="#ebe032"/>
<rect x="497.14" y="154.03" width="14.55" height="21.56" fill="#c5e67d"/>
<rect x="497.14" y="174.40" width="14.55" height="32.08" fill="#a3cf5d"/>
<rect x="497.14" y="205.27" width="14.55" height="7.77" fill="#f2a028"/>
<rect x="497.14" y="211.84" width="14.55" height="9.30" fill="#ee8828"/>
<rect x="497.14" y="219.94" width="14.55" height="7.99" fill="#d2690a"/>
<rect x="497.14" y="226.73" width="14.55" height="35.47" fill="#8b4507"/>
<rect x="513.23" y="146.15" width="14.55" height="11.05" fill="#ebe032"/>
<rect x="513.23" y="156.00" width="14.55" height="20.25" fill="#c5e67d"/>
<rect x="513.23" y="175.05" width="14.55" height="32.29" fill="#a3cf5d"/>
<rect x="513.23" y="206.15" width="14.55" height="9.08" fill="#f2a028"/>
<rect x="513.23" y="214.03" width="14.55" height="7.11" fill="#ee8828"/>
<rect x="513.23" y="219.94" width="14.55" height="7.33" fill="#d2690a"/>
<rect x="513.23" y="226.08" width="14.55" height="36.13" fill="#8b4507"/>
<rect x="529.30" y="146.15" width="14.55" height="14.78" fill="#ebe032"/>
<rect x="529.30" y="159.73" width="14.55" height="22.44" fill="#c5e67d"/>
<rect x="529.30" y="180.97" width="14.55" height="29.01" fill="#a3cf5d"/>
<rect x="529.30" y="208.78" width="14.55" height="10.40" fill="#f2a028"/>
<rect x="529.30" y="217.97" width="14.55" height="9.08" fill="#ee8828"/>
<rect x="529.30" y="225.86" width="14.55" height="6.02" fill="#d2690a"/>
<rect x="529.30" y="230.67" width="14.55" height="31.53" fill="#8b4507"/>
<rect x="545.38" y="146.15" width="14.55" height="16.31" fill="#ebe032"/>
<rect x="545.38" y="161.26" width="14.55" height="21.56" fill="#c5e67d"/>
<rect x="545.38" y="181.62" width="14.55" height="27.04" fill="#a3cf5d"/>
<rect x="545.38" y="207.46" width="14.55" height="9.52" fill="#f2a028"/>
<rect x="545.38" y="215.78" width="14.55" height="9.30" fill="#ee8828"/>
<rect x="545.38" y="223.89" width="14.55" height="5.58" fill="#d2690a"/>
<rect x="545.38" y="228.27" width="14.55" height="33.94" fill="#8b4507"/>
<rect x="561.47" y="146.15" width="14.55" height="15.43" fill="#ebe032"/>
<rect x="561.47" y="160.38" width="14.55" height="22.66" fill="#c5e67d"/>
<rect x="561.47" y="181.84" width="14.55" height="28.13" fill="#a3cf5d"/>
<rect x="561.47" y="208.78" width="14.55" height="8.21" fill="#f2a028"/>
<rect x="561.47" y="215.78" width="14.55" height="9.30" fill="#ee8828"/>
<rect x="561.47" y="223.89" width="14.55" height="6.89" fill="#d2690a"/>
<rect x="561.47" y="229.58" width="14.55" height="32.63" fill="#8b4507"/>
<rect x="577.54" y="146.15" width="14.55" height="17.40" fill="#ebe032"/>
<rect x="577.54" y="162.35" width="14.55" height="26.82" fill="#c5e67d"/>
<rect x="577.54" y="187.97" width="14.55" height="25.73" fill="#a3cf5d"/>
<rect x="577.54" y="212.50" width="14.55" height="6.67" fill="#f2a028"/>
<rect x="577.54" y="217.97" width="14.55" height="9.08" fill="#ee8828"/>
<rect x="577.54" y="225.86" width="14.55" height="7.33" fill="#d2690a"/>
<rect x="577.54" y="231.99" width="14.55" height="30.22" fill="#8b4507"/>
<rect x="593.62" y="146.15" width="14.55" height="16.97" fill="#ebe032"/>
<rect x="593.62" y="161.92" width="14.55" height="27.26" fill="#c5e67d"/>
<rect x="593.62" y="187.97" width="14.55" height="25.94" fill="#a3cf5d"/>
<rect x="593.62" y="212.72" width="14.55" height="5.58" fill="#f2a028"/>
<rect x="593.62" y="217.10" width="14.55" height="9.96" fill="#ee8828"/>
<rect x="593.62" y="225.86" width="14.55" height="7.99" fill="#d2690a"/>
<rect x="593.62" y="232.65" width="14.55" height="29.56" fill="#8b4507"/>
<rect x="609.70" y="146.15" width="14.55" height="18.50" fill="#ebe032"/>
<rect x="609.70" y="163.45" width="14.55" height="29.01" fill="#c5e67d"/>
<rect x="609.70" y="191.26" width="14.55" height="23.97" fill="#a3cf5d"/>
<rect x="609.70" y="214.03" width="14.55" height="6.02" fill="#f2a028"/>
<rect x="609.70" y="218.85" width="14.55" height="9.96" fill="#ee8828"/>
<rect x="609.70" y="227.61" width="14.55" height="6.24" fill="#d2690a"/>
<rect x="609.70" y="232.65" width="14.55" height="29.56" fill="#8b4507"/>
<rect x="625.78" y="146.15" width="14.55" height="14.78" fill="#ebe032"/>
<rect x="625.78" y="159.73" width="14.55" height="27.70" fill="#c5e67d"/>
<rect x="625.78" y="186.22" width="14.55" height="26.82" fill="#a3cf5d"/>
<rect x="625.78" y="211.84" width="14.55" height="7.33" fill="#f2a028"/>
<rect x="625.78" y="217.97" width="14.55" height="11.27" fill="#ee8828"/>
<rect x="625.78" y="228.05" width="14.55" height="8.21" fill="#d2690a"/>
<rect x="625.78" y="235.05" width="14.55" height="27.15" fill="#8b4507"/>
<rect x="55.45" y="140.75" width="592.9499999999999" height="127.1" fill="none" stroke="#333" stroke-width="1.1"/>
<rect x="648.9" y="140.75" width="32.700000000000045" height="127.1" fill="#d9d9d9" stroke="#333" stroke-width="1.1"/>
<text transform="translate(658.4,204.3) rotate(90)" text-anchor="middle" font-size="20.3" font-weight="bold" fill="#1a1a1a">RI scores</text>
<line x1="50.2" x2="55.45" y1="262.20" y2="262.20" stroke="#333" stroke-width="1.55"/>
<text transform="translate(46.3,267.22) scale(1,1.07)" text-anchor="end" font-size="13.1" fill="#1c1c1c" stroke="#1c1c1c" stroke-width="0.2">0.00</text>
<line x1="50.2" x2="55.45" y1="233.19" y2="233.19" stroke="#333" stroke-width="1.55"/>
<text transform="translate(46.3,238.21) scale(1,1.07)" text-anchor="end" font-size="13.1" fill="#1c1c1c" stroke="#1c1c1c" stroke-width="0.2">0.25</text>
<line x1="50.2" x2="55.45" y1="204.17" y2="204.17" stroke="#333" stroke-width="1.55"/>
<text transform="translate(46.3,209.19) scale(1,1.07)" text-anchor="end" font-size="13.1" fill="#1c1c1c" stroke="#1c1c1c" stroke-width="0.2">0.50</text>
<line x1="50.2" x2="55.45" y1="175.16" y2="175.16" stroke="#333" stroke-width="1.55"/>
<text transform="translate(46.3,180.18) scale(1,1.07)" text-anchor="end" font-size="13.1" fill="#1c1c1c" stroke="#1c1c1c" stroke-width="0.2">0.75</text>
<line x1="50.2" x2="55.45" y1="146.15" y2="146.15" stroke="#333" stroke-width="1.55"/>
<text transform="translate(46.3,151.17) scale(1,1.07)" text-anchor="end" font-size="13.1" fill="#1c1c1c" stroke="#1c1c1c" stroke-width="0.2">1.00</text>
<line x1="55.45" x2="648.4" y1="380.90" y2="380.90" stroke="#e8e8e8" stroke-width="0.75"/>
<line x1="55.45" x2="648.4" y1="343.50" y2="343.50" stroke="#e8e8e8" stroke-width="0.75"/>
<line x1="55.45" x2="648.4" y1="306.10" y2="306.10" stroke="#e8e8e8" stroke-width="0.75"/>
<line x1="86.34" x2="86.34" y1="278.2" y2="405.29999999999995" stroke="#e8e8e8" stroke-width="0.75"/>
<line x1="102.42" x2="102.42" y1="278.2" y2="405.29999999999995" stroke="#e8e8e8" stroke-width="0.75"/>
<line x1="118.50" x2="118.50" y1="278.2" y2="405.29999999999995" stroke="#e8e8e8" stroke-width="0.75"/>
<line x1="134.58" x2="134.58" y1="278.2" y2="405.29999999999995" stroke="#e8e8e8" stroke-width="0.75"/>
<line x1="166.74" x2="166.74" y1="278.2" y2="405.29999999999995" stroke="#e8e8e8" stroke-width="0.75"/>
<line x1="182.82" x2="182.82" y1="278.2" y2="405.29999999999995" stroke="#e8e8e8" stroke-width="0.75"/>
<line x1="198.90" x2="198.90" y1="278.2" y2="405.29999999999995" stroke="#e8e8e8" stroke-width="0.75"/>
<line x1="214.98" x2="214.98" y1="278.2" y2="405.29999999999995" stroke="#e8e8e8" stroke-width="0.75"/>
<line x1="247.14" x2="247.14" y1="278.2" y2="405.29999999999995" stroke="#e8e8e8" stroke-width="0.75"/>
<line x1="263.22" x2="263.22" y1="278.2" y2="405.29999999999995" stroke="#e8e8e8" stroke-width="0.75"/>
<line x1="279.30" x2="279.30" y1="278.2" y2="405.29999999999995" stroke="#e8e8e8" stroke-width="0.75"/>
<line x1="295.38" x2="295.38" y1="278.2" y2="405.29999999999995" stroke="#e8e8e8" stroke-width="0.75"/>
<line x1="327.54" x2="327.54" y1="278.2" y2="405.29999999999995" stroke="#e8e8e8" stroke-width="0.75"/>
<line x1="343.62" x2="343.62" y1="278.2" y2="405.29999999999995" stroke="#e8e8e8" stroke-width="0.75"/>
<line x1="359.70" x2="359.70" y1="278.2" y2="405.29999999999995" stroke="#e8e8e8" stroke-width="0.75"/>
<line x1="375.78" x2="375.78" y1="278.2" y2="405.29999999999995" stroke="#e8e8e8" stroke-width="0.75"/>
<line x1="407.94" x2="407.94" y1="278.2" y2="405.29999999999995" stroke="#e8e8e8" stroke-width="0.75"/>
<line x1="424.02" x2="424.02" y1="278.2" y2="405.29999999999995" stroke="#e8e8e8" stroke-width="0.75"/>
<line x1="440.10" x2="440.10" y1="278.2" y2="405.29999999999995" stroke="#e8e8e8" stroke-width="0.75"/>
<line x1="456.18" x2="456.18" y1="278.2" y2="405.29999999999995" stroke="#e8e8e8" stroke-width="0.75"/>
<line x1="488.34" x2="488.34" y1="278.2" y2="405.29999999999995" stroke="#e8e8e8" stroke-width="0.75"/>
<line x1="504.42" x2="504.42" y1="278.2" y2="405.29999999999995" stroke="#e8e8e8" stroke-width="0.75"/>
<line x1="520.50" x2="520.50" y1="278.2" y2="405.29999999999995" stroke="#e8e8e8" stroke-width="0.75"/>
<line x1="536.58" x2="536.58" y1="278.2" y2="405.29999999999995" stroke="#e8e8e8" stroke-width="0.75"/>
<line x1="568.74" x2="568.74" y1="278.2" y2="405.29999999999995" stroke="#e8e8e8" stroke-width="0.75"/>
<line x1="584.82" x2="584.82" y1="278.2" y2="405.29999999999995" stroke="#e8e8e8" stroke-width="0.75"/>
<line x1="600.90" x2="600.90" y1="278.2" y2="405.29999999999995" stroke="#e8e8e8" stroke-width="0.75"/>
<line x1="616.98" x2="616.98" y1="278.2" y2="405.29999999999995" stroke="#e8e8e8" stroke-width="0.75"/>
<line x1="55.45" x2="648.4" y1="399.60" y2="399.60" stroke="#e8e8e8" stroke-width="1.4"/>
<line x1="55.45" x2="648.4" y1="362.20" y2="362.20" stroke="#e8e8e8" stroke-width="1.4"/>
<line x1="55.45" x2="648.4" y1="324.80" y2="324.80" stroke="#e8e8e8" stroke-width="1.4"/>
<line x1="55.45" x2="648.4" y1="287.40" y2="287.40" stroke="#e8e8e8" stroke-width="1.4"/>
<line x1="70.26" x2="70.26" y1="278.2" y2="405.29999999999995" stroke="#ababab" stroke-width="1.5"/>
<line x1="150.66" x2="150.66" y1="278.2" y2="405.29999999999995" stroke="#ababab" stroke-width="1.5"/>
<line x1="231.06" x2="231.06" y1="278.2" y2="405.29999999999995" stroke="#ababab" stroke-width="1.5"/>
<line x1="311.46" x2="311.46" y1="278.2" y2="405.29999999999995" stroke="#ababab" stroke-width="1.5"/>
<line x1="391.86" x2="391.86" y1="278.2" y2="405.29999999999995" stroke="#ababab" stroke-width="1.5"/>
<line x1="472.26" x2="472.26" y1="278.2" y2="405.29999999999995" stroke="#ababab" stroke-width="1.5"/>
<line x1="552.66" x2="552.66" y1="278.2" y2="405.29999999999995" stroke="#ababab" stroke-width="1.5"/>
<line x1="633.06" x2="633.06" y1="278.2" y2="405.29999999999995" stroke="#ababab" stroke-width="1.5"/>
<rect x="62.99" y="399.93" width="14.55" height="0.15" fill="#f2a028"/>
<rect x="79.06" y="399.43" width="14.55" height="0.66" fill="#f2a028"/>
<rect x="95.14" y="399.43" width="14.55" height="0.66" fill="#ee8828"/>
<rect x="95.14" y="399.86" width="14.55" height="0.22" fill="#8b4507"/>
<rect x="111.22" y="399.21" width="14.55" height="0.88" fill="#ee8828"/>
<rect x="111.22" y="399.65" width="14.55" height="0.44" fill="#8b4507"/>
<rect x="127.30" y="398.55" width="14.55" height="1.42" fill="#c5e67d"/>
<rect x="127.30" y="398.77" width="14.55" height="1.31" fill="#ee8828"/>
<rect x="127.30" y="399.43" width="14.55" height="0.66" fill="#8b4507"/>
<rect x="143.38" y="390.67" width="14.55" height="2.08" fill="#c5e67d"/>
<rect x="143.38" y="391.54" width="14.55" height="8.54" fill="#8b4507"/>
<rect x="159.47" y="381.25" width="14.55" height="2.08" fill="#a3cf5d"/>
<rect x="159.47" y="382.13" width="14.55" height="17.96" fill="#8b4507"/>
<rect x="175.54" y="386.51" width="14.55" height="2.29" fill="#c5e67d"/>
<rect x="175.54" y="387.60" width="14.55" height="12.48" fill="#8b4507"/>
<rect x="191.62" y="393.08" width="14.55" height="2.95" fill="#c5e67d"/>
<rect x="191.62" y="394.83" width="14.55" height="5.26" fill="#8b4507"/>
<rect x="207.70" y="380.16" width="14.55" height="4.92" fill="#c5e67d"/>
<rect x="207.70" y="383.88" width="14.55" height="16.20" fill="#8b4507"/>
<rect x="223.78" y="383.00" width="14.55" height="4.27" fill="#c5e67d"/>
<rect x="223.78" y="386.07" width="14.55" height="14.01" fill="#8b4507"/>
<rect x="239.86" y="393.95" width="14.55" height="2.08" fill="#c5e67d"/>
<rect x="239.86" y="394.83" width="14.55" height="5.26" fill="#8b4507"/>
<rect x="255.94" y="381.03" width="14.55" height="10.62" fill="#ee8828"/>
<rect x="255.94" y="390.45" width="14.55" height="9.64" fill="#8b4507"/>
<rect x="272.02" y="368.55" width="14.55" height="19.38" fill="#ee8828"/>
<rect x="272.02" y="386.73" width="14.55" height="13.36" fill="#8b4507"/>
<rect x="288.11" y="383.66" width="14.55" height="10.18" fill="#ee8828"/>
<rect x="288.11" y="392.64" width="14.55" height="7.45" fill="#8b4507"/>
<rect x="304.19" y="398.77" width="14.55" height="1.31" fill="#ee8828"/>
<rect x="304.19" y="399.21" width="14.55" height="0.88" fill="#8b4507"/>
<rect x="320.26" y="399.75" width="14.55" height="0.33" fill="#a3cf5d"/>
<rect x="336.34" y="399.75" width="14.55" height="0.33" fill="#a3cf5d"/>
<rect x="352.42" y="398.33" width="14.55" height="1.75" fill="#f2a028"/>
<rect x="352.42" y="398.99" width="14.55" height="1.09" fill="#ee8828"/>
<rect x="352.42" y="399.43" width="14.55" height="0.66" fill="#8b4507"/>
<rect x="368.50" y="396.14" width="14.55" height="2.95" fill="#c5e67d"/>
<rect x="368.50" y="397.89" width="14.55" height="2.19" fill="#ee8828"/>
<rect x="368.50" y="399.21" width="14.55" height="0.88" fill="#8b4507"/>
<rect x="384.58" y="395.27" width="14.55" height="2.95" fill="#c5e67d"/>
<rect x="384.58" y="397.02" width="14.55" height="2.95" fill="#ee8828"/>
<rect x="384.58" y="398.77" width="14.55" height="1.31" fill="#8b4507"/>
<rect x="400.66" y="395.27" width="14.55" height="2.51" fill="#c5e67d"/>
<rect x="400.66" y="396.58" width="14.55" height="2.95" fill="#ee8828"/>
<rect x="400.66" y="398.33" width="14.55" height="1.75" fill="#8b4507"/>
<rect x="416.75" y="396.14" width="14.55" height="2.51" fill="#c5e67d"/>
<rect x="416.75" y="397.46" width="14.55" height="2.51" fill="#ee8828"/>
<rect x="416.75" y="398.77" width="14.55" height="1.31" fill="#8b4507"/>
<rect x="432.82" y="397.89" width="14.55" height="1.64" fill="#f2a028"/>
<rect x="432.82" y="398.33" width="14.55" height="1.64" fill="#ee8828"/>
<rect x="432.82" y="398.77" width="14.55" height="1.31" fill="#8b4507"/>
<rect x="448.90" y="397.67" width="14.55" height="1.64" fill="#f2a028"/>
<rect x="448.90" y="398.11" width="14.55" height="1.86" fill="#ee8828"/>
<rect x="448.90" y="398.77" width="14.55" height="1.31" fill="#8b4507"/>
<rect x="464.98" y="396.80" width="14.55" height="2.73" fill="#a3cf5d"/>
<rect x="464.98" y="398.33" width="14.55" height="1.75" fill="#ee8828"/>
<rect x="464.98" y="398.99" width="14.55" height="1.09" fill="#8b4507"/>
<rect x="481.06" y="395.70" width="14.55" height="3.83" fill="#a3cf5d"/>
<rect x="481.06" y="398.33" width="14.55" height="1.75" fill="#ee8828"/>
<rect x="481.06" y="398.99" width="14.55" height="1.09" fill="#8b4507"/>
<rect x="497.14" y="395.05" width="14.55" height="2.08" fill="#c5e67d"/>
<rect x="497.14" y="395.92" width="14.55" height="3.61" fill="#a3cf5d"/>
<rect x="497.14" y="398.33" width="14.55" height="1.64" fill="#ee8828"/>
<rect x="497.14" y="398.77" width="14.55" height="1.31" fill="#8b4507"/>
<rect x="513.23" y="394.17" width="14.55" height="2.29" fill="#c5e67d"/>
<rect x="513.23" y="395.27" width="14.55" height="3.61" fill="#a3cf5d"/>
<rect x="513.23" y="397.67" width="14.55" height="2.41" fill="#8b4507"/>
<rect x="529.30" y="377.31" width="14.55" height="2.51" fill="#c5e67d"/>
<rect x="529.30" y="378.62" width="14.55" height="5.36" fill="#a3cf5d"/>
<rect x="529.30" y="382.78" width="14.55" height="3.17" fill="#f2a028"/>
<rect x="529.30" y="384.75" width="14.55" height="15.33" fill="#8b4507"/>
<rect x="545.38" y="360.89" width="14.55" height="1.86" fill="#ebe032"/>
<rect x="545.38" y="361.54" width="14.55" height="2.29" fill="#c5e67d"/>
<rect x="545.38" y="362.64" width="14.55" height="6.24" fill="#a3cf5d"/>
<rect x="545.38" y="367.67" width="14.55" height="4.48" fill="#f2a028"/>
<rect x="545.38" y="370.96" width="14.55" height="29.12" fill="#8b4507"/>
<rect x="561.47" y="362.20" width="14.55" height="2.73" fill="#c5e67d"/>
<rect x="561.47" y="363.73" width="14.55" height="7.11" fill="#a3cf5d"/>
<rect x="561.47" y="369.65" width="14.55" height="4.48" fill="#f2a028"/>
<rect x="561.47" y="372.93" width="14.55" height="27.15" fill="#8b4507"/>
<rect x="577.54" y="309.43" width="14.55" height="2.95" fill="#ebe032"/>
<rect x="577.54" y="311.18" width="14.55" height="15.00" fill="#c5e67d"/>
<rect x="577.54" y="324.97" width="14.55" height="39.08" fill="#a3cf5d"/>
<rect x="577.54" y="362.86" width="14.55" height="2.29" fill="#ee8828"/>
<rect x="577.54" y="363.95" width="14.55" height="36.13" fill="#8b4507"/>
<rect x="593.62" y="287.09" width="14.55" height="3.39" fill="#ebe032"/>
<rect x="593.62" y="289.28" width="14.55" height="22.66" fill="#c5e67d"/>
<rect x="593.62" y="310.74" width="14.55" height="51.78" fill="#a3cf5d"/>
<rect x="593.62" y="361.32" width="14.55" height="38.76" fill="#8b4507"/>
<rect x="609.70" y="317.53" width="14.55" height="3.17" fill="#ebe032"/>
<rect x="609.70" y="319.50" width="14.55" height="18.50" fill="#c5e67d"/>
<rect x="609.70" y="336.80" width="14.55" height="40.62" fill="#a3cf5d"/>
<rect x="609.70" y="376.21" width="14.55" height="23.87" fill="#8b4507"/>
<rect x="625.78" y="399.43" width="14.55" height="0.66" fill="#a3cf5d"/>
<rect x="55.45" y="278.2" width="592.9499999999999" height="127.1" fill="none" stroke="#333" stroke-width="1.1"/>
<rect x="648.9" y="278.2" width="32.700000000000045" height="127.1" fill="#d9d9d9" stroke="#333" stroke-width="1.1"/>
<text transform="translate(658.4,341.75) rotate(90)" text-anchor="middle" font-size="20.3" font-weight="bold" fill="#1a1a1a">counts</text>
<line x1="50.2" x2="55.45" y1="399.60" y2="399.60" stroke="#333" stroke-width="1.55"/>
<text transform="translate(46.3,404.62) scale(1,1.07)" text-anchor="end" font-size="13.1" fill="#1c1c1c" stroke="#1c1c1c" stroke-width="0.2">0</text>
<line x1="50.2" x2="55.45" y1="362.20" y2="362.20" stroke="#333" stroke-width="1.55"/>
<text transform="translate(46.3,367.22) scale(1,1.07)" text-anchor="end" font-size="13.1" fill="#1c1c1c" stroke="#1c1c1c" stroke-width="0.2">50000</text>
<line x1="50.2" x2="55.45" y1="324.80" y2="324.80" stroke="#333" stroke-width="1.55"/>
<text transform="translate(46.3,329.82) scale(1,1.07)" text-anchor="end" font-size="13.1" fill="#1c1c1c" stroke="#1c1c1c" stroke-width="0.2">100000</text>
<line x1="50.2" x2="55.45" y1="287.40" y2="287.40" stroke="#333" stroke-width="1.55"/>
<text transform="translate(46.3,292.42) scale(1,1.07)" text-anchor="end" font-size="13.1" fill="#1c1c1c" stroke="#1c1c1c" stroke-width="0.2">150000</text>
<line x1="55.45" x2="648.4" y1="479.25" y2="479.25" stroke="#e8e8e8" stroke-width="0.75"/>
<line x1="86.34" x2="86.34" y1="415.65" y2="542.75" stroke="#e8e8e8" stroke-width="0.75"/>
<line x1="102.42" x2="102.42" y1="415.65" y2="542.75" stroke="#e8e8e8" stroke-width="0.75"/>
<line x1="118.50" x2="118.50" y1="415.65" y2="542.75" stroke="#e8e8e8" stroke-width="0.75"/>
<line x1="134.58" x2="134.58" y1="415.65" y2="542.75" stroke="#e8e8e8" stroke-width="0.75"/>
<line x1="166.74" x2="166.74" y1="415.65" y2="542.75" stroke="#e8e8e8" stroke-width="0.75"/>
<line x1="182.82" x2="182.82" y1="415.65" y2="542.75" stroke="#e8e8e8" stroke-width="0.75"/>
<line x1="198.90" x2="198.90" y1="415.65" y2="542.75" stroke="#e8e8e8" stroke-width="0.75"/>
<line x1="214.98" x2="214.98" y1="415.65" y2="542.75" stroke="#e8e8e8" stroke-width="0.75"/>
<line x1="247.14" x2="247.14" y1="415.65" y2="542.75" stroke="#e8e8e8" stroke-width="0.75"/>
<line x1="263.22" x2="263.22" y1="415.65" y2="542.75" stroke="#e8e8e8" stroke-width="0.75"/>
<line x1="279.30" x2="279.30" y1="415.65" y2="542.75" stroke="#e8e8e8" stroke-width="0.75"/>
<line x1="295.38" x2="295.38" y1="415.65" y2="542.75" stroke="#e8e8e8" stroke-width="0.75"/>
<line x1="327.54" x2="327.54" y1="415.65" y2="542.75" stroke="#e8e8e8" stroke-width="0.75"/>
<line x1="343.62" x2="343.62" y1="415.65" y2="542.75" stroke="#e8e8e8" stroke-width="0.75"/>
<line x1="359.70" x2="359.70" y1="415.65" y2="542.75" stroke="#e8e8e8" stroke-width="0.75"/>
<line x1="375.78" x2="375.78" y1="415.65" y2="542.75" stroke="#e8e8e8" stroke-width="0.75"/>
<line x1="407.94" x2="407.94" y1="415.65" y2="542.75" stroke="#e8e8e8" stroke-width="0.75"/>
<line x1="424.02" x2="424.02" y1="415.65" y2="542.75" stroke="#e8e8e8" stroke-width="0.75"/>
<line x1="440.10" x2="440.10" y1="415.65" y2="542.75" stroke="#e8e8e8" stroke-width="0.75"/>
<line x1="456.18" x2="456.18" y1="415.65" y2="542.75" stroke="#e8e8e8" stroke-width="0.75"/>
<line x1="488.34" x2="488.34" y1="415.65" y2="542.75" stroke="#e8e8e8" stroke-width="0.75"/>
<line x1="504.42" x2="504.42" y1="415.65" y2="542.75" stroke="#e8e8e8" stroke-width="0.75"/>
<line x1="520.50" x2="520.50" y1="415.65" y2="542.75" stroke="#e8e8e8" stroke-width="0.75"/>
<line x1="536.58" x2="536.58" y1="415.65" y2="542.75" stroke="#e8e8e8" stroke-width="0.75"/>
<line x1="568.74" x2="568.74" y1="415.65" y2="542.75" stroke="#e8e8e8" stroke-width="0.75"/>
<line x1="584.82" x2="584.82" y1="415.65" y2="542.75" stroke="#e8e8e8" stroke-width="0.75"/>
<line x1="600.90" x2="600.90" y1="415.65" y2="542.75" stroke="#e8e8e8" stroke-width="0.75"/>
<line x1="616.98" x2="616.98" y1="415.65" y2="542.75" stroke="#e8e8e8" stroke-width="0.75"/>
<line x1="55.45" x2="648.4" y1="537.40" y2="537.40" stroke="#e8e8e8" stroke-width="1.4"/>
<line x1="55.45" x2="648.4" y1="421.10" y2="421.10" stroke="#e8e8e8" stroke-width="1.4"/>
<line x1="70.26" x2="70.26" y1="415.65" y2="542.75" stroke="#ababab" stroke-width="1.5"/>
<line x1="150.66" x2="150.66" y1="415.65" y2="542.75" stroke="#ababab" stroke-width="1.5"/>
<line x1="231.06" x2="231.06" y1="415.65" y2="542.75" stroke="#ababab" stroke-width="1.5"/>
<line x1="311.46" x2="311.46" y1="415.65" y2="542.75" stroke="#ababab" stroke-width="1.5"/>
<line x1="391.86" x2="391.86" y1="415.65" y2="542.75" stroke="#ababab" stroke-width="1.5"/>
<line x1="472.26" x2="472.26" y1="415.65" y2="542.75" stroke="#ababab" stroke-width="1.5"/>
<line x1="552.66" x2="552.66" y1="415.65" y2="542.75" stroke="#ababab" stroke-width="1.5"/>
<line x1="633.06" x2="633.06" y1="415.65" y2="542.75" stroke="#ababab" stroke-width="1.5"/>
<rect x="95.14" y="507.17" width="14.55" height="30.23" fill="#7f7f7f"/>
<rect x="111.22" y="513.74" width="14.55" height="23.66" fill="#7f7f7f"/>
<rect x="127.30" y="515.93" width="14.55" height="21.47" fill="#7f7f7f"/>
<rect x="143.38" y="514.84" width="14.55" height="22.56" fill="#7f7f7f"/>
<rect x="159.47" y="499.07" width="14.55" height="38.33" fill="#7f7f7f"/>
<rect x="175.54" y="501.04" width="14.55" height="36.36" fill="#7f7f7f"/>
<rect x="191.62" y="519.87" width="14.55" height="17.53" fill="#7f7f7f"/>
<rect x="207.70" y="519.87" width="14.55" height="17.53" fill="#7f7f7f"/>
<rect x="223.78" y="508.49" width="14.55" height="28.91" fill="#7f7f7f"/>
<rect x="239.86" y="441.70" width="14.55" height="95.70" fill="#7f7f7f"/>
<rect x="255.94" y="432.06" width="14.55" height="105.34" fill="#7f7f7f"/>
<rect x="272.02" y="474.55" width="14.55" height="62.85" fill="#7f7f7f"/>
<rect x="288.11" y="451.99" width="14.55" height="85.41" fill="#7f7f7f"/>
<rect x="304.19" y="478.27" width="14.55" height="59.13" fill="#7f7f7f"/>
<rect x="368.50" y="511.55" width="14.55" height="25.85" fill="#7f7f7f"/>
<rect x="384.58" y="504.76" width="14.55" height="32.64" fill="#7f7f7f"/>
<rect x="400.66" y="515.71" width="14.55" height="21.69" fill="#7f7f7f"/>
<rect x="416.75" y="515.71" width="14.55" height="21.69" fill="#7f7f7f"/>
<rect x="448.90" y="499.73" width="14.55" height="37.67" fill="#7f7f7f"/>
<rect x="464.98" y="497.98" width="14.55" height="39.42" fill="#7f7f7f"/>
<rect x="481.06" y="500.82" width="14.55" height="36.58" fill="#7f7f7f"/>
<rect x="497.14" y="502.57" width="14.55" height="34.83" fill="#7f7f7f"/>
<rect x="513.23" y="504.76" width="14.55" height="32.64" fill="#7f7f7f"/>
<rect x="529.30" y="465.13" width="14.55" height="72.27" fill="#7f7f7f"/>
<rect x="545.38" y="477.17" width="14.55" height="60.23" fill="#7f7f7f"/>
<rect x="561.47" y="485.93" width="14.55" height="51.47" fill="#7f7f7f"/>
<rect x="577.54" y="467.76" width="14.55" height="69.64" fill="#7f7f7f"/>
<rect x="593.62" y="469.95" width="14.55" height="67.45" fill="#7f7f7f"/>
<rect x="609.70" y="473.67" width="14.55" height="63.73" fill="#7f7f7f"/>
<rect x="55.45" y="415.65" width="592.9499999999999" height="127.1" fill="none" stroke="#333" stroke-width="1.1"/>
<rect x="648.9" y="415.65" width="32.700000000000045" height="127.1" fill="#d9d9d9" stroke="#333" stroke-width="1.1"/>
<text transform="translate(658.4,479.2) rotate(90)" text-anchor="middle" font-size="20.3" font-weight="bold" fill="#1a1a1a">mass finds</text>
<line x1="50.2" x2="55.45" y1="537.40" y2="537.40" stroke="#333" stroke-width="1.55"/>
<text transform="translate(46.3,542.42) scale(1,1.07)" text-anchor="end" font-size="13.1" fill="#1c1c1c" stroke="#1c1c1c" stroke-width="0.2">0</text>
<line x1="50.2" x2="55.45" y1="421.10" y2="421.10" stroke="#333" stroke-width="1.55"/>
<text transform="translate(46.3,426.12) scale(1,1.07)" text-anchor="end" font-size="13.1" fill="#1c1c1c" stroke="#1c1c1c" stroke-width="0.2">5</text>
<line x1="55.45" x2="648.4" y1="667.62" y2="667.62" stroke="#e8e8e8" stroke-width="0.75"/>
<line x1="55.45" x2="648.4" y1="653.06" y2="653.06" stroke="#e8e8e8" stroke-width="0.75"/>
<line x1="55.45" x2="648.4" y1="638.49" y2="638.49" stroke="#e8e8e8" stroke-width="0.75"/>
<line x1="55.45" x2="648.4" y1="623.93" y2="623.93" stroke="#e8e8e8" stroke-width="0.75"/>
<line x1="55.45" x2="648.4" y1="609.37" y2="609.37" stroke="#e8e8e8" stroke-width="0.75"/>
<line x1="55.45" x2="648.4" y1="594.81" y2="594.81" stroke="#e8e8e8" stroke-width="0.75"/>
<line x1="55.45" x2="648.4" y1="580.24" y2="580.24" stroke="#e8e8e8" stroke-width="0.75"/>
<line x1="55.45" x2="648.4" y1="565.68" y2="565.68" stroke="#e8e8e8" stroke-width="0.75"/>
<line x1="86.34" x2="86.34" y1="553.1" y2="680.2" stroke="#e8e8e8" stroke-width="0.75"/>
<line x1="102.42" x2="102.42" y1="553.1" y2="680.2" stroke="#e8e8e8" stroke-width="0.75"/>
<line x1="118.50" x2="118.50" y1="553.1" y2="680.2" stroke="#e8e8e8" stroke-width="0.75"/>
<line x1="134.58" x2="134.58" y1="553.1" y2="680.2" stroke="#e8e8e8" stroke-width="0.75"/>
<line x1="166.74" x2="166.74" y1="553.1" y2="680.2" stroke="#e8e8e8" stroke-width="0.75"/>
<line x1="182.82" x2="182.82" y1="553.1" y2="680.2" stroke="#e8e8e8" stroke-width="0.75"/>
<line x1="198.90" x2="198.90" y1="553.1" y2="680.2" stroke="#e8e8e8" stroke-width="0.75"/>
<line x1="214.98" x2="214.98" y1="553.1" y2="680.2" stroke="#e8e8e8" stroke-width="0.75"/>
<line x1="247.14" x2="247.14" y1="553.1" y2="680.2" stroke="#e8e8e8" stroke-width="0.75"/>
<line x1="263.22" x2="263.22" y1="553.1" y2="680.2" stroke="#e8e8e8" stroke-width="0.75"/>
<line x1="279.30" x2="279.30" y1="553.1" y2="680.2" stroke="#e8e8e8" stroke-width="0.75"/>
<line x1="295.38" x2="295.38" y1="553.1" y2="680.2" stroke="#e8e8e8" stroke-width="0.75"/>
<line x1="327.54" x2="327.54" y1="553.1" y2="680.2" stroke="#e8e8e8" stroke-width="0.75"/>
<line x1="343.62" x2="343.62" y1="553.1" y2="680.2" stroke="#e8e8e8" stroke-width="0.75"/>
<line x1="359.70" x2="359.70" y1="553.1" y2="680.2" stroke="#e8e8e8" stroke-width="0.75"/>
<line x1="375.78" x2="375.78" y1="553.1" y2="680.2" stroke="#e8e8e8" stroke-width="0.75"/>
<line x1="407.94" x2="407.94" y1="553.1" y2="680.2" stroke="#e8e8e8" stroke-width="0.75"/>
<line x1="424.02" x2="424.02" y1="553.1" y2="680.2" stroke="#e8e8e8" stroke-width="0.75"/>
<line x1="440.10" x2="440.10" y1="553.1" y2="680.2" stroke="#e8e8e8" stroke-width="0.75"/>
<line x1="456.18" x2="456.18" y1="553.1" y2="680.2" stroke="#e8e8e8" stroke-width="0.75"/>
<line x1="488.34" x2="488.34" y1="553.1" y2="680.2" stroke="#e8e8e8" stroke-width="0.75"/>
<line x1="504.42" x2="504.42" y1="553.1" y2="680.2" stroke="#e8e8e8" stroke-width="0.75"/>
<line x1="520.50" x2="520.50" y1="553.1" y2="680.2" stroke="#e8e8e8" stroke-width="0.75"/>
<line x1="536.58" x2="536.58" y1="553.1" y2="680.2" stroke="#e8e8e8" stroke-width="0.75"/>
<line x1="568.74" x2="568.74" y1="553.1" y2="680.2" stroke="#e8e8e8" stroke-width="0.75"/>
<line x1="584.82" x2="584.82" y1="553.1" y2="680.2" stroke="#e8e8e8" stroke-width="0.75"/>
<line x1="600.90" x2="600.90" y1="553.1" y2="680.2" stroke="#e8e8e8" stroke-width="0.75"/>
<line x1="616.98" x2="616.98" y1="553.1" y2="680.2" stroke="#e8e8e8" stroke-width="0.75"/>
<line x1="55.45" x2="648.4" y1="674.90" y2="674.90" stroke="#e8e8e8" stroke-width="1.4"/>
<line x1="55.45" x2="648.4" y1="660.34" y2="660.34" stroke="#e8e8e8" stroke-width="1.4"/>
<line x1="55.45" x2="648.4" y1="645.77" y2="645.77" stroke="#e8e8e8" stroke-width="1.4"/>
<line x1="55.45" x2="648.4" y1="631.21" y2="631.21" stroke="#e8e8e8" stroke-width="1.4"/>
<line x1="55.45" x2="648.4" y1="616.65" y2="616.65" stroke="#e8e8e8" stroke-width="1.4"/>
<line x1="55.45" x2="648.4" y1="602.09" y2="602.09" stroke="#e8e8e8" stroke-width="1.4"/>
<line x1="55.45" x2="648.4" y1="587.52" y2="587.52" stroke="#e8e8e8" stroke-width="1.4"/>
<line x1="55.45" x2="648.4" y1="572.96" y2="572.96" stroke="#e8e8e8" stroke-width="1.4"/>
<line x1="55.45" x2="648.4" y1="558.40" y2="558.40" stroke="#e8e8e8" stroke-width="1.4"/>
<line x1="70.26" x2="70.26" y1="553.1" y2="680.2" stroke="#ababab" stroke-width="1.5"/>
<line x1="150.66" x2="150.66" y1="553.1" y2="680.2" stroke="#ababab" stroke-width="1.5"/>
<line x1="231.06" x2="231.06" y1="553.1" y2="680.2" stroke="#ababab" stroke-width="1.5"/>
<line x1="311.46" x2="311.46" y1="553.1" y2="680.2" stroke="#ababab" stroke-width="1.5"/>
<line x1="391.86" x2="391.86" y1="553.1" y2="680.2" stroke="#ababab" stroke-width="1.5"/>
<line x1="472.26" x2="472.26" y1="553.1" y2="680.2" stroke="#ababab" stroke-width="1.5"/>
<line x1="552.66" x2="552.66" y1="553.1" y2="680.2" stroke="#ababab" stroke-width="1.5"/>
<line x1="633.06" x2="633.06" y1="553.1" y2="680.2" stroke="#ababab" stroke-width="1.5"/>
<rect x="62.99" y="622.48" width="14.55" height="52.42" fill="#7f7f7f"/>
<rect x="79.06" y="613.74" width="14.55" height="61.16" fill="#7f7f7f"/>
<rect x="95.14" y="590.44" width="14.55" height="84.46" fill="#7f7f7f"/>
<rect x="111.22" y="593.35" width="14.55" height="81.55" fill="#7f7f7f"/>
<rect x="127.30" y="587.52" width="14.55" height="87.38" fill="#7f7f7f"/>
<rect x="143.38" y="570.05" width="14.55" height="104.85" fill="#7f7f7f"/>
<rect x="159.47" y="578.79" width="14.55" height="96.11" fill="#7f7f7f"/>
<rect x="175.54" y="564.23" width="14.55" height="110.67" fill="#7f7f7f"/>
<rect x="191.62" y="564.23" width="14.55" height="110.67" fill="#7f7f7f"/>
<rect x="207.70" y="558.40" width="14.55" height="116.50" fill="#7f7f7f"/>
<rect x="223.78" y="572.96" width="14.55" height="101.94" fill="#7f7f7f"/>
<rect x="239.86" y="584.61" width="14.55" height="90.29" fill="#7f7f7f"/>
<rect x="255.94" y="561.31" width="14.55" height="113.59" fill="#7f7f7f"/>
<rect x="272.02" y="596.26" width="14.55" height="78.64" fill="#7f7f7f"/>
<rect x="288.11" y="599.17" width="14.55" height="75.73" fill="#7f7f7f"/>
<rect x="304.19" y="610.82" width="14.55" height="64.08" fill="#7f7f7f"/>
<rect x="320.26" y="622.48" width="14.55" height="52.42" fill="#7f7f7f"/>
<rect x="336.34" y="619.56" width="14.55" height="55.34" fill="#7f7f7f"/>
<rect x="352.42" y="570.05" width="14.55" height="104.85" fill="#7f7f7f"/>
<rect x="368.50" y="567.14" width="14.55" height="107.76" fill="#7f7f7f"/>
<rect x="384.58" y="561.31" width="14.55" height="113.59" fill="#7f7f7f"/>
<rect x="400.66" y="570.05" width="14.55" height="104.85" fill="#7f7f7f"/>
<rect x="416.75" y="570.05" width="14.55" height="104.85" fill="#7f7f7f"/>
<rect x="432.82" y="564.23" width="14.55" height="110.67" fill="#7f7f7f"/>
<rect x="448.90" y="631.21" width="14.55" height="43.69" fill="#7f7f7f"/>
<rect x="464.98" y="628.30" width="14.55" height="46.60" fill="#7f7f7f"/>
<rect x="481.06" y="631.21" width="14.55" height="43.69" fill="#7f7f7f"/>
<rect x="497.14" y="613.74" width="14.55" height="61.16" fill="#7f7f7f"/>
<rect x="513.23" y="613.74" width="14.55" height="61.16" fill="#7f7f7f"/>
<rect x="529.30" y="584.61" width="14.55" height="90.29" fill="#7f7f7f"/>
<rect x="545.38" y="593.35" width="14.55" height="81.55" fill="#7f7f7f"/>
<rect x="561.47" y="593.35" width="14.55" height="81.55" fill="#7f7f7f"/>
<rect x="577.54" y="584.61" width="14.55" height="90.29" fill="#7f7f7f"/>
<rect x="593.62" y="596.26" width="14.55" height="78.64" fill="#7f7f7f"/>
<rect x="609.70" y="607.91" width="14.55" height="66.99" fill="#7f7f7f"/>
<rect x="625.78" y="613.74" width="14.55" height="61.16" fill="#7f7f7f"/>
<rect x="55.45" y="553.1" width="592.9499999999999" height="127.1" fill="none" stroke="#333" stroke-width="1.1"/>
<rect x="648.9" y="553.1" width="32.700000000000045" height="127.1" fill="#d9d9d9" stroke="#333" stroke-width="1.1"/>
<text transform="translate(658.4,616.65) rotate(90)" text-anchor="middle" font-size="20.3" font-weight="bold" fill="#1a1a1a">sites</text>
<line x1="50.2" x2="55.45" y1="674.90" y2="674.90" stroke="#333" stroke-width="1.55"/>
<text transform="translate(46.3,679.92) scale(1,1.07)" text-anchor="end" font-size="13.1" fill="#1c1c1c" stroke="#1c1c1c" stroke-width="0.2">0</text>
<line x1="50.2" x2="55.45" y1="660.34" y2="660.34" stroke="#333" stroke-width="1.55"/>
<text transform="translate(46.3,665.36) scale(1,1.07)" text-anchor="end" font-size="13.1" fill="#1c1c1c" stroke="#1c1c1c" stroke-width="0.2">5</text>
<line x1="50.2" x2="55.45" y1="645.77" y2="645.77" stroke="#333" stroke-width="1.55"/>
<text transform="translate(46.3,650.79) scale(1,1.07)" text-anchor="end" font-size="13.1" fill="#1c1c1c" stroke="#1c1c1c" stroke-width="0.2">10</text>
<line x1="50.2" x2="55.45" y1="631.21" y2="631.21" stroke="#333" stroke-width="1.55"/>
<text transform="translate(46.3,636.23) scale(1,1.07)" text-anchor="end" font-size="13.1" fill="#1c1c1c" stroke="#1c1c1c" stroke-width="0.2">15</text>
<line x1="50.2" x2="55.45" y1="616.65" y2="616.65" stroke="#333" stroke-width="1.55"/>
<text transform="translate(46.3,621.67) scale(1,1.07)" text-anchor="end" font-size="13.1" fill="#1c1c1c" stroke="#1c1c1c" stroke-width="0.2">20</text>
<line x1="50.2" x2="55.45" y1="602.09" y2="602.09" stroke="#333" stroke-width="1.55"/>
<text transform="translate(46.3,607.11) scale(1,1.07)" text-anchor="end" font-size="13.1" fill="#1c1c1c" stroke="#1c1c1c" stroke-width="0.2">25</text>
<line x1="50.2" x2="55.45" y1="587.52" y2="587.52" stroke="#333" stroke-width="1.55"/>
<text transform="translate(46.3,592.54) scale(1,1.07)" text-anchor="end" font-size="13.1" fill="#1c1c1c" stroke="#1c1c1c" stroke-width="0.2">30</text>
<line x1="50.2" x2="55.45" y1="572.96" y2="572.96" stroke="#333" stroke-width="1.55"/>
<text transform="translate(46.3,577.98) scale(1,1.07)" text-anchor="end" font-size="13.1" fill="#1c1c1c" stroke="#1c1c1c" stroke-width="0.2">35</text>
<line x1="50.2" x2="55.45" y1="558.40" y2="558.40" stroke="#333" stroke-width="1.55"/>
<text transform="translate(46.3,563.42) scale(1,1.07)" text-anchor="end" font-size="13.1" fill="#1c1c1c" stroke="#1c1c1c" stroke-width="0.2">40</text>
<line x1="70.26" x2="70.26" y1="680.2" y2="685.6" stroke="#333" stroke-width="1.55"/>
<line x1="150.66" x2="150.66" y1="680.2" y2="685.6" stroke="#333" stroke-width="1.55"/>
<line x1="231.06" x2="231.06" y1="680.2" y2="685.6" stroke="#333" stroke-width="1.55"/>
<line x1="311.46" x2="311.46" y1="680.2" y2="685.6" stroke="#333" stroke-width="1.55"/>
<line x1="391.86" x2="391.86" y1="680.2" y2="685.6" stroke="#333" stroke-width="1.55"/>
<line x1="472.26" x2="472.26" y1="680.2" y2="685.6" stroke="#333" stroke-width="1.55"/>
<line x1="552.66" x2="552.66" y1="680.2" y2="685.6" stroke="#333" stroke-width="1.55"/>
<line x1="633.06" x2="633.06" y1="680.2" y2="685.6" stroke="#333" stroke-width="1.55"/>
<text transform="translate(70.26,701.4) scale(1,1.04)" text-anchor="middle" font-size="16.9" fill="#1c1c1c">-4000</text>
<text transform="translate(150.66,701.4) scale(1,1.04)" text-anchor="middle" font-size="16.9" fill="#1c1c1c">-3500</text>
<text transform="translate(231.06,701.4) scale(1,1.04)" text-anchor="middle" font-size="16.9" fill="#1c1c1c">-3000</text>
<text transform="translate(311.46,701.4) scale(1,1.04)" text-anchor="middle" font-size="16.9" fill="#1c1c1c">-2500</text>
<text transform="translate(391.86,701.4) scale(1,1.04)" text-anchor="middle" font-size="16.9" fill="#1c1c1c">-2000</text>
<text transform="translate(472.26,701.4) scale(1,1.04)" text-anchor="middle" font-size="16.9" fill="#1c1c1c">-1500</text>
<text transform="translate(552.66,701.4) scale(1,1.04)" text-anchor="middle" font-size="16.9" fill="#1c1c1c">-1000</text>
<text transform="translate(633.06,701.4) scale(1,1.04)" text-anchor="middle" font-size="16.9" fill="#1c1c1c">-500</text>
<text x="351.8" y="724" text-anchor="middle" font-size="20.4" font-weight="bold" fill="#000">Age BCE</text>
<rect x="35.95" y="755.75" width="24.15" height="15.35" fill="#ebe032" stroke="#000" stroke-width="1.6"/>
<text x="69.15" y="769.55" font-size="16.85" fill="#000">broomcorn millet</text>
<rect x="257.30" y="755.75" width="24.15" height="15.35" fill="#c5e67d" stroke="#000" stroke-width="1.6"/>
<text x="290.50" y="769.55" font-size="16.85" fill="#000">naked barley</text>
<rect x="421.20" y="755.75" width="24.15" height="15.35" fill="#a3cf5d" stroke="#000" stroke-width="1.6"/>
<text x="454.40" y="769.55" font-size="16.85" fill="#000">hulled barley</text>
<rect x="583.60" y="755.75" width="24.15" height="15.35" fill="#f2a028" stroke="#000" stroke-width="1.6"/>
<text x="616.80" y="769.55" font-size="16.85" fill="#000">spelt</text>
<rect x="35.95" y="783.50" width="24.15" height="15.35" fill="#ee8828" stroke="#000" stroke-width="1.6"/>
<text x="69.15" y="797.30" font-size="16.85" fill="#000">free-threshing wheat</text>
<rect x="257.30" y="783.50" width="24.15" height="15.35" fill="#d2690a" stroke="#000" stroke-width="1.6"/>
<text x="290.50" y="797.30" font-size="16.85" fill="#000">einkorn</text>
<rect x="421.20" y="783.50" width="24.15" height="15.35" fill="#8b4507" stroke="#000" stroke-width="1.6"/>
<text x="454.40" y="797.30" font-size="16.85" fill="#000">emmer</text>
</svg>
</body></html>
